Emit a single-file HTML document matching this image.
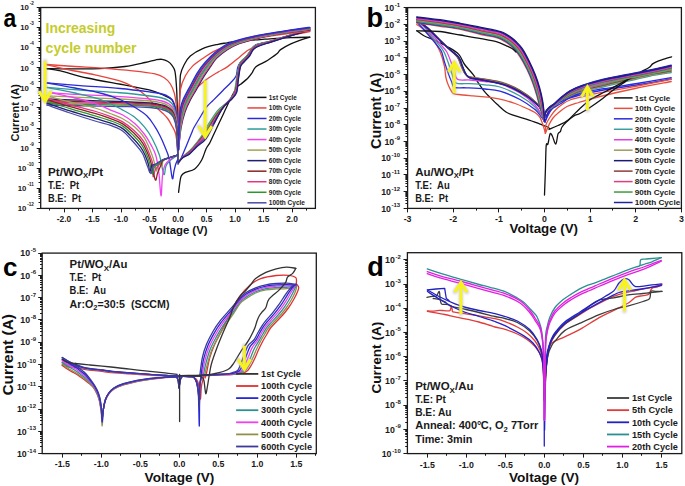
<!DOCTYPE html><html><head><meta charset="utf-8"><style>html,body{margin:0;padding:0;background:#fff;overflow:hidden}svg{display:block}text{font-family:"Liberation Sans",sans-serif}</style></head><body>
<svg width="685" height="486" viewBox="0 0 685 486">
<defs><filter id="glow" x="-50%" y="-20%" width="200%" height="140%"><feGaussianBlur stdDeviation="1.1"/></filter></defs>
<rect width="685" height="486" fill="#fff"/>
<path d="M46.50,68.60 C50.42,68.65 61.08,68.88 70.00,68.90 C78.92,68.92 90.83,69.10 100.00,68.70 C109.17,68.30 117.50,67.53 125.00,66.50 C132.50,65.47 139.83,63.62 145.00,62.50 C150.17,61.38 153.17,60.33 156.00,59.80 C158.83,59.27 160.00,59.02 162.00,59.30 C164.00,59.58 166.33,60.48 168.00,61.50 C169.67,62.52 170.83,63.72 172.00,65.40 C173.17,67.08 174.23,67.73 175.00,71.60 C175.77,75.47 176.20,81.92 176.60,88.60 C177.00,95.28 177.17,103.97 177.40,111.70 C177.63,119.43 177.90,131.12 178.00,135.00" fill="none" stroke="#111111" stroke-width="1.3" stroke-linejoin="round" stroke-linecap="round" opacity="1.0"/>
<path d="M46.50,68.60 C48.85,68.98 53.78,69.33 60.60,70.90 C67.42,72.47 76.42,75.60 87.40,78.00 C98.38,80.40 115.90,83.23 126.50,85.30 C137.10,87.37 144.75,88.70 151.00,90.40 C157.25,92.10 160.53,93.95 164.00,95.50 C167.47,97.05 169.88,97.28 171.80,99.70 C173.72,102.12 174.60,104.95 175.50,110.00 C176.40,115.05 176.78,123.33 177.20,130.00 C177.62,136.67 177.87,146.67 178.00,150.00" fill="none" stroke="#111111" stroke-width="1.3" stroke-linejoin="round" stroke-linecap="round" opacity="1.0"/>
<path d="M46.50,64.50 C51.25,64.83 65.78,65.88 75.00,66.50 C84.22,67.12 92.20,67.47 101.80,68.20 C111.40,68.93 123.73,69.95 132.60,70.90 C141.47,71.85 149.72,72.75 155.00,73.90 C160.28,75.05 161.73,76.12 164.30,77.80 C166.87,79.48 168.73,81.43 170.40,84.00 C172.07,86.57 173.27,89.10 174.30,93.20 C175.33,97.30 176.05,102.47 176.60,108.60 C177.15,114.73 177.33,123.10 177.60,130.00 C177.87,136.90 178.10,146.67 178.20,150.00" fill="none" stroke="#e8443c" stroke-width="1.3" stroke-linejoin="round" stroke-linecap="round" opacity="1.0"/>
<path d="M46.50,64.50 C50.42,65.42 61.92,68.28 70.00,70.00 C78.08,71.72 86.72,72.98 95.00,74.80 C103.28,76.62 112.92,78.65 119.70,80.90 C126.48,83.15 131.58,86.03 135.70,88.30 C139.82,90.57 142.02,92.55 144.40,94.50 C146.78,96.45 148.07,97.92 150.00,100.00 C151.93,102.08 153.83,104.75 156.00,107.00 C158.17,109.25 161.00,111.50 163.00,113.50 C165.00,115.50 166.50,116.92 168.00,119.00 C169.50,121.08 170.72,123.50 172.00,126.00 C173.28,128.50 174.73,130.00 175.70,134.00 C176.67,138.00 177.45,147.33 177.80,150.00" fill="none" stroke="#e8443c" stroke-width="1.3" stroke-linejoin="round" stroke-linecap="round" opacity="1.0"/>
<path d="M47.00,82.80 C52.50,83.26 67.83,84.61 80.00,85.56 C92.17,86.51 108.33,87.43 120.00,88.50 C131.67,89.58 143.00,91.08 150.00,92.00 C157.00,92.92 158.83,93.17 162.00,94.00 C165.17,94.83 167.08,95.67 169.00,97.00 C170.92,98.33 172.25,99.17 173.50,102.00 C174.75,104.83 175.82,107.67 176.50,114.00 C177.18,120.33 177.33,132.67 177.60,140.00 C177.87,147.33 178.02,155.00 178.10,158.00" fill="none" stroke="#2a2ad6" stroke-width="1.3" stroke-linejoin="round" stroke-linecap="round" opacity="1.0"/>
<path d="M47.00,87.40 C52.50,87.83 67.83,89.09 80.00,89.98 C92.17,90.87 108.33,91.73 120.00,92.73 C131.67,93.74 143.00,95.12 150.00,96.00 C157.00,96.88 158.83,97.17 162.00,98.00 C165.17,98.83 167.08,99.67 169.00,101.00 C170.92,102.33 172.25,103.17 173.50,106.00 C174.75,108.83 175.82,112.08 176.50,118.00 C177.18,123.92 177.33,134.70 177.60,141.50 C177.87,148.30 178.02,155.92 178.10,158.80" fill="none" stroke="#2f9a9a" stroke-width="1.3" stroke-linejoin="round" stroke-linecap="round" opacity="1.0"/>
<path d="M52.00,92.70 C56.67,93.02 68.67,93.94 80.00,94.59 C91.33,95.24 108.33,95.87 120.00,96.61 C131.67,97.34 143.00,98.27 150.00,99.00 C157.00,99.73 158.83,100.17 162.00,101.00 C165.17,101.83 167.08,102.67 169.00,104.00 C170.92,105.33 172.25,106.17 173.50,109.00 C174.75,111.83 175.82,115.33 176.50,121.00 C177.18,126.67 177.33,136.57 177.60,143.00 C177.87,149.43 178.02,156.83 178.10,159.60" fill="none" stroke="#f040f0" stroke-width="1.3" stroke-linejoin="round" stroke-linecap="round" opacity="1.0"/>
<path d="M47.00,95.80 C52.50,96.06 67.83,96.82 80.00,97.36 C92.17,97.90 108.33,98.42 120.00,99.02 C131.67,99.63 143.00,100.34 150.00,101.00 C157.00,101.66 158.83,102.17 162.00,103.00 C165.17,103.83 167.08,104.67 169.00,106.00 C170.92,107.33 172.25,108.17 173.50,111.00 C174.75,113.83 175.82,117.42 176.50,123.00 C177.18,128.58 177.33,138.27 177.60,144.50 C177.87,150.73 178.02,157.75 178.10,160.40" fill="none" stroke="#a2a254" stroke-width="1.3" stroke-linejoin="round" stroke-linecap="round" opacity="1.0"/>
<path d="M47.00,99.00 C52.50,99.20 67.83,99.79 80.00,100.20 C92.17,100.61 108.33,101.01 120.00,101.48 C131.67,101.95 143.00,102.41 150.00,103.00 C157.00,103.59 158.83,104.17 162.00,105.00 C165.17,105.83 167.08,106.67 169.00,108.00 C170.92,109.33 172.25,110.17 173.50,113.00 C174.75,115.83 175.82,119.50 176.50,125.00 C177.18,130.50 177.33,139.97 177.60,146.00 C177.87,152.03 178.02,158.67 178.10,161.20" fill="none" stroke="#20206e" stroke-width="1.3" stroke-linejoin="round" stroke-linecap="round" opacity="1.0"/>
<path d="M47.00,100.50 C52.50,100.67 67.83,101.19 80.00,101.55 C92.17,101.91 108.33,102.26 120.00,102.67 C131.67,103.08 143.00,103.44 150.00,104.00 C157.00,104.56 158.83,105.17 162.00,106.00 C165.17,106.83 167.08,107.67 169.00,109.00 C170.92,110.33 172.25,111.17 173.50,114.00 C174.75,116.83 175.82,120.42 176.50,126.00 C177.18,131.58 177.33,141.50 177.60,147.50 C177.87,153.50 178.02,159.58 178.10,162.00" fill="none" stroke="#8a2424" stroke-width="1.3" stroke-linejoin="round" stroke-linecap="round" opacity="1.0"/>
<path d="M47.00,102.00 C52.50,102.15 67.83,102.59 80.00,102.90 C92.17,103.21 108.33,103.51 120.00,103.86 C131.67,104.21 143.00,104.48 150.00,105.00 C157.00,105.52 158.83,106.17 162.00,107.00 C165.17,107.83 167.08,108.67 169.00,110.00 C170.92,111.33 172.25,112.17 173.50,115.00 C174.75,117.83 175.82,121.33 176.50,127.00 C177.18,132.67 177.33,143.03 177.60,149.00 C177.87,154.97 178.02,160.50 178.10,162.80" fill="none" stroke="#e63284" stroke-width="1.3" stroke-linejoin="round" stroke-linecap="round" opacity="1.0"/>
<path d="M47.00,103.50 C52.50,103.62 67.83,103.99 80.00,104.25 C92.17,104.51 108.33,104.76 120.00,105.05 C131.67,105.34 143.00,105.51 150.00,106.00 C157.00,106.49 158.83,107.17 162.00,108.00 C165.17,108.83 167.08,109.67 169.00,111.00 C170.92,112.33 172.25,113.17 173.50,116.00 C174.75,118.83 175.82,122.25 176.50,128.00 C177.18,133.75 177.33,144.57 177.60,150.50 C177.87,156.43 178.02,161.42 178.10,163.60" fill="none" stroke="#2e962e" stroke-width="1.3" stroke-linejoin="round" stroke-linecap="round" opacity="1.0"/>
<path d="M47.00,105.00 C52.50,105.12 67.83,105.49 80.00,105.75 C92.17,106.01 108.33,106.26 120.00,106.55 C131.67,106.84 143.00,107.01 150.00,107.50 C157.00,107.99 158.83,108.67 162.00,109.50 C165.17,110.33 167.08,111.17 169.00,112.50 C170.92,113.83 172.25,114.67 173.50,117.50 C174.75,120.33 175.82,123.75 176.50,129.50 C177.18,135.25 177.33,146.18 177.60,152.00 C177.87,157.82 178.02,162.33 178.10,164.40" fill="none" stroke="#4a4aa8" stroke-width="1.3" stroke-linejoin="round" stroke-linecap="round" opacity="1.0"/>
<path d="M47.00,83.00 C51.67,83.83 65.83,86.25 75.00,88.00 C84.17,89.75 94.50,91.58 102.00,93.50 C109.50,95.42 114.55,97.20 120.00,99.50 C125.45,101.80 130.20,104.55 134.70,107.30 C139.20,110.05 143.72,112.90 147.00,116.00 C150.28,119.10 152.23,122.62 154.40,125.90 C156.57,129.18 158.23,132.18 160.00,135.70 C161.77,139.22 163.50,143.28 165.00,147.00 C166.50,150.72 167.78,152.77 169.00,158.00 C170.22,163.23 171.47,176.23 172.30,178.40 C173.13,180.57 173.43,173.37 174.00,171.00 C174.57,168.63 175.12,166.03 175.70,164.20 C176.28,162.37 177.20,160.70 177.50,160.00" fill="none" stroke="#2a2ad6" stroke-width="1.3" stroke-linejoin="round" stroke-linecap="round" opacity="1.0"/>
<path d="M47.00,87.60 C51.67,88.50 65.83,90.93 75.00,93.00 C84.17,95.07 94.12,97.20 102.00,100.00 C109.88,102.80 116.85,106.93 122.30,109.80 C127.75,112.67 130.98,114.32 134.70,117.20 C138.42,120.08 141.72,123.60 144.60,127.10 C147.48,130.60 149.53,133.55 152.00,138.20 C154.47,142.85 157.43,148.97 159.40,155.00 C161.37,161.03 162.70,172.57 163.80,174.40 C164.90,176.23 164.97,168.32 166.00,166.00 C167.03,163.68 168.38,162.08 170.00,160.50 C171.62,158.92 174.37,157.42 175.70,156.50 C177.03,155.58 177.62,155.25 178.00,155.00" fill="none" stroke="#2f9a9a" stroke-width="1.3" stroke-linejoin="round" stroke-linecap="round" opacity="1.0"/>
<path d="M52.00,93.00 C55.83,93.83 67.83,96.25 75.00,98.00 C82.17,99.75 89.17,101.53 95.00,103.50 C100.83,105.47 105.45,107.92 110.00,109.80 C114.55,111.68 118.18,112.53 122.30,114.80 C126.42,117.07 130.98,120.12 134.70,123.40 C138.42,126.68 141.93,131.00 144.60,134.50 C147.27,138.00 148.85,140.98 150.70,144.40 C152.55,147.82 154.35,150.40 155.70,155.00 C157.05,159.60 157.92,165.18 158.80,172.00 C159.68,178.82 160.38,195.23 161.00,195.90 C161.62,196.57 161.83,181.15 162.50,176.00 C163.17,170.85 163.75,167.75 165.00,165.00 C166.25,162.25 168.22,161.00 170.00,159.50 C171.78,158.00 174.37,156.75 175.70,156.00 C177.03,155.25 177.62,155.17 178.00,155.00" fill="none" stroke="#f040f0" stroke-width="1.3" stroke-linejoin="round" stroke-linecap="round" opacity="1.0"/>
<path d="M47.00,96.00 C50.83,97.00 62.00,100.00 70.00,102.00 C78.00,104.00 88.33,106.08 95.00,108.00 C101.67,109.92 105.45,111.75 110.00,113.50 C114.55,115.25 118.18,116.23 122.30,118.50 C126.42,120.77 130.98,123.82 134.70,127.10 C138.42,130.38 141.72,133.55 144.60,138.20 C147.48,142.85 150.27,150.53 152.00,155.00 C153.73,159.47 154.25,162.33 155.00,165.00 C155.75,167.67 155.88,171.17 156.50,171.00 C157.12,170.83 157.78,164.83 158.70,164.00 C159.62,163.17 161.23,166.58 162.00,166.00 C162.77,165.42 161.97,161.92 163.30,160.50 C164.63,159.08 167.93,158.30 170.00,157.50 C172.07,156.70 174.37,156.12 175.70,155.70 C177.03,155.28 177.62,155.12 178.00,155.00" fill="none" stroke="#a2a254" stroke-width="1.3" stroke-linejoin="round" stroke-linecap="round" opacity="1.0"/>
<path d="M47.00,98.25 C50.83,99.33 62.00,102.58 70.00,104.75 C78.00,106.92 88.33,109.30 95.00,111.25 C101.67,113.20 105.45,114.70 110.00,116.42 C114.55,118.15 118.29,119.23 122.30,121.58 C126.31,123.92 130.57,127.27 134.07,130.50 C137.58,133.73 140.72,136.89 143.35,140.97 C145.97,145.06 148.22,151.00 149.82,155.00 C151.43,159.00 152.45,161.38 153.00,165.00 C153.55,168.62 152.72,175.92 153.10,176.70 C153.48,177.48 154.38,171.57 155.30,169.70 C156.22,167.83 157.27,167.07 158.60,165.50 C159.93,163.93 161.40,161.58 163.30,160.25 C165.20,158.92 167.93,158.26 170.00,157.50 C172.07,156.74 174.37,156.12 175.70,155.70 C177.03,155.28 177.62,155.12 178.00,155.00" fill="none" stroke="#e63284" stroke-width="1.3" stroke-linejoin="round" stroke-linecap="round" opacity="1.0"/>
<path d="M47.00,99.78 C50.83,100.92 62.00,104.34 70.00,106.62 C78.00,108.90 88.33,111.49 95.00,113.46 C101.67,115.43 105.45,116.71 110.00,118.41 C114.55,120.12 118.36,121.27 122.30,123.67 C126.24,126.07 130.28,129.61 133.65,132.81 C137.02,136.01 140.05,139.16 142.50,142.86 C144.95,146.56 146.82,151.31 148.35,155.00 C149.87,158.69 150.46,160.83 151.64,165.00 C152.82,169.17 154.41,178.67 155.40,180.00 C156.39,181.33 156.68,175.47 157.60,173.00 C158.52,170.53 159.95,167.31 160.90,165.16 C161.85,163.01 161.78,161.36 163.30,160.08 C164.82,158.80 167.93,158.23 170.00,157.50 C172.07,156.77 174.37,156.12 175.70,155.70 C177.03,155.28 177.62,155.12 178.00,155.00" fill="none" stroke="#8a2424" stroke-width="1.3" stroke-linejoin="round" stroke-linecap="round" opacity="1.0"/>
<path d="M47.00,101.40 C50.83,102.60 62.00,106.20 70.00,108.60 C78.00,111.00 88.33,113.81 95.00,115.80 C101.67,117.79 105.45,118.84 110.00,120.52 C114.55,122.20 118.43,123.42 122.30,125.88 C126.17,128.34 129.98,132.10 133.20,135.26 C136.42,138.42 139.34,141.57 141.60,144.86 C143.86,148.15 145.35,151.64 146.78,155.00 C148.21,158.36 149.28,161.83 150.20,165.00 C151.12,168.17 151.58,173.67 152.30,174.00 C153.02,174.33 153.58,168.53 154.50,167.00 C155.42,165.47 156.33,165.98 157.80,164.80 C159.27,163.62 161.27,161.12 163.30,159.90 C165.33,158.68 167.93,158.20 170.00,157.50 C172.07,156.80 174.37,156.12 175.70,155.70 C177.03,155.28 177.62,155.12 178.00,155.00" fill="none" stroke="#2e962e" stroke-width="1.3" stroke-linejoin="round" stroke-linecap="round" opacity="1.0"/>
<path d="M47.00,103.20 C50.83,104.47 62.00,108.27 70.00,110.80 C78.00,113.33 88.33,116.39 95.00,118.40 C101.67,120.41 105.45,121.20 110.00,122.86 C114.55,124.52 118.52,125.82 122.30,128.34 C126.08,130.86 129.65,134.86 132.70,137.98 C135.75,141.10 138.54,144.24 140.60,147.08 C142.66,149.92 143.71,152.01 145.04,155.00 C146.37,157.99 147.82,162.08 148.60,165.00 C149.38,167.92 149.15,172.42 149.70,172.50 C150.25,172.58 150.98,166.85 151.90,165.50 C152.82,164.15 153.30,165.37 155.20,164.40 C157.10,163.43 160.83,160.85 163.30,159.70 C165.77,158.55 167.93,158.17 170.00,157.50 C172.07,156.83 174.37,156.12 175.70,155.70 C177.03,155.28 177.62,155.12 178.00,155.00" fill="none" stroke="#20206e" stroke-width="1.3" stroke-linejoin="round" stroke-linecap="round" opacity="1.0"/>
<path d="M47.00,105.00 C50.83,106.33 62.00,110.33 70.00,113.00 C78.00,115.67 88.33,118.97 95.00,121.00 C101.67,123.03 105.45,123.57 110.00,125.20 C114.55,126.83 118.60,128.22 122.30,130.80 C126.00,133.38 129.32,137.62 132.20,140.70 C135.08,143.78 137.75,146.92 139.60,149.30 C141.45,151.68 142.07,152.38 143.30,155.00 C144.53,157.62 145.75,161.92 147.00,165.00 C148.25,168.08 149.80,173.25 150.80,173.50 C151.80,173.75 152.08,168.08 153.00,166.50 C153.92,164.92 154.58,165.17 156.30,164.00 C158.02,162.83 161.02,160.58 163.30,159.50 C165.58,158.42 167.93,158.13 170.00,157.50 C172.07,156.87 174.37,156.12 175.70,155.70 C177.03,155.28 177.62,155.12 178.00,155.00" fill="none" stroke="#4a4aa8" stroke-width="1.3" stroke-linejoin="round" stroke-linecap="round" opacity="1.0"/>
<path d="M178.30,135.00 C178.45,130.83 178.93,117.17 179.20,110.00 C179.47,102.83 179.68,97.90 179.90,92.00 C180.12,86.10 179.78,79.15 180.50,74.60 C181.22,70.05 182.57,67.80 184.20,64.70 C185.83,61.60 187.22,58.68 190.30,56.00 C193.38,53.32 198.08,50.55 202.70,48.60 C207.32,46.65 213.90,45.27 218.00,44.30 C222.10,43.33 223.68,43.37 227.30,42.80 C230.92,42.23 234.25,41.43 239.70,40.90 C245.15,40.37 254.90,39.95 260.00,39.60 C265.10,39.25 265.17,39.12 270.30,38.80 C275.43,38.48 284.22,37.97 290.80,37.70 C297.38,37.43 306.63,37.28 309.80,37.20" fill="none" stroke="#111111" stroke-width="1.3" stroke-linejoin="round" stroke-linecap="round" opacity="1.0"/>
<path d="M309.80,37.20 C308.35,37.63 304.27,38.68 301.10,39.80 C297.93,40.92 294.22,42.27 290.80,43.90 C287.38,45.53 282.82,48.05 280.60,49.60 C278.38,51.15 279.40,51.58 277.50,53.20 C275.60,54.82 271.28,57.85 269.20,59.30 C267.12,60.75 267.25,60.63 265.00,61.90 C262.75,63.17 257.87,65.05 255.70,66.90 C253.53,68.75 253.28,71.15 252.00,73.00 C250.72,74.85 249.83,76.17 248.00,78.00 C246.17,79.83 242.77,82.55 241.00,84.00 C239.23,85.45 238.73,85.03 237.40,86.70 C236.07,88.37 234.57,91.12 233.00,94.00 C231.43,96.88 230.00,99.83 228.00,104.00 C226.00,108.17 223.27,114.17 221.00,119.00 C218.73,123.83 216.23,129.08 214.40,133.00 C212.57,136.92 211.40,139.83 210.00,142.50 C208.60,145.17 207.38,146.08 206.00,149.00 C204.62,151.92 203.58,156.68 201.70,160.00 C199.82,163.32 197.52,166.80 194.70,168.90 C191.88,171.00 187.07,171.37 184.80,172.60 C182.53,173.83 181.98,174.23 181.10,176.30 C180.22,178.37 179.92,182.33 179.50,185.00 C179.08,187.67 178.75,191.08 178.60,192.30" fill="none" stroke="#111111" stroke-width="1.3" stroke-linejoin="round" stroke-linecap="round" opacity="1.0"/>
<path d="M309.80,31.60 C306.63,32.22 297.38,33.73 290.80,35.30 C284.22,36.87 275.43,39.38 270.30,41.00 C265.17,42.62 263.05,43.78 260.00,45.00 C256.95,46.22 254.15,47.33 252.00,48.30 C249.85,49.27 249.15,49.35 247.10,50.80 C245.05,52.25 243.00,54.32 239.70,57.00 C236.40,59.68 230.92,64.38 227.30,66.90 C223.68,69.42 221.48,70.00 218.00,72.10 C214.52,74.20 209.98,76.83 206.40,79.50 C202.82,82.17 199.57,85.35 196.50,88.10 C193.43,90.85 190.33,92.85 188.00,96.00 C185.67,99.15 183.90,102.67 182.50,107.00 C181.10,111.33 180.25,116.50 179.60,122.00 C178.95,127.50 178.77,137.00 178.60,140.00" fill="none" stroke="#e8443c" stroke-width="1.3" stroke-linejoin="round" stroke-linecap="round" opacity="1.0"/>
<path d="M309.80,29.20 C306.63,30.17 295.67,33.53 290.80,35.00 C285.93,36.47 284.02,36.92 280.60,38.00 C277.18,39.08 273.40,40.67 270.30,41.50 C267.20,42.33 264.43,42.45 262.00,43.00 C259.57,43.55 257.37,43.92 255.70,44.80 C254.03,45.68 253.02,47.10 252.00,48.30 C250.98,49.50 250.62,50.55 249.60,52.00 C248.58,53.45 247.48,55.22 245.90,57.00 C244.32,58.78 241.48,60.87 240.10,62.70 C238.72,64.53 238.27,65.78 237.60,68.00 C236.93,70.22 237.25,73.55 236.10,76.00 C234.95,78.45 232.93,80.25 230.70,82.70 C228.47,85.15 225.58,87.80 222.70,90.70 C219.82,93.60 216.07,97.42 213.40,100.10 C210.73,102.78 208.68,104.32 206.70,106.80 C204.72,109.28 203.62,111.55 201.50,115.00 C199.38,118.45 195.68,124.40 194.00,127.50 C192.32,130.60 192.68,130.52 191.40,133.60 C190.12,136.68 188.02,141.88 186.30,146.00 C184.58,150.12 182.38,155.47 181.10,158.30 C179.82,161.13 179.02,162.22 178.60,163.00" fill="none" stroke="#2a2ad6" stroke-width="1.3" stroke-linejoin="round" stroke-linecap="round" opacity="1.0"/>
<path d="M309.80,29.00 C306.63,29.97 297.38,32.75 290.80,34.80 C284.22,36.85 275.93,39.68 270.30,41.30 C264.67,42.92 260.05,43.33 257.00,44.50 C253.95,45.67 253.23,47.05 252.00,48.30 C250.77,49.55 250.62,50.55 249.60,52.00 C248.58,53.45 247.48,55.22 245.90,57.00 C244.32,58.78 241.52,59.97 240.10,62.70 C238.68,65.43 238.18,69.40 237.40,73.40 C236.62,77.40 236.07,83.13 235.40,86.70 C234.73,90.27 234.85,92.12 233.40,94.80 C231.95,97.48 229.37,100.13 226.70,102.80 C224.03,105.47 220.52,107.10 217.40,110.80 C214.28,114.50 210.45,121.02 208.00,125.00 C205.55,128.98 205.30,130.87 202.70,134.70 C200.10,138.53 195.35,144.62 192.40,148.00 C189.45,151.38 187.30,152.67 185.00,155.00 C182.70,157.33 179.67,160.83 178.60,162.00" fill="none" stroke="#2f9a9a" stroke-width="1.3" stroke-linejoin="round" stroke-linecap="round" opacity="1.0"/>
<path d="M309.80,29.17 C306.63,30.13 297.38,32.90 290.80,34.94 C284.22,36.99 275.91,39.80 270.30,41.44 C264.69,43.08 260.17,43.60 257.14,44.79 C254.12,45.97 253.40,47.25 252.14,48.54 C250.89,49.84 250.69,51.04 249.60,52.57 C248.51,54.10 247.20,55.93 245.63,57.71 C244.05,59.50 241.51,60.50 240.16,63.27 C238.81,66.04 238.29,70.31 237.53,74.34 C236.77,78.38 236.32,83.97 235.60,87.47 C234.88,90.98 234.79,92.69 233.21,95.37 C231.64,98.05 228.86,100.65 226.13,103.56 C223.40,106.47 219.90,108.93 216.83,112.83 C213.76,116.73 210.21,123.03 207.71,126.97 C205.21,130.91 204.45,132.80 201.83,136.46 C199.20,140.11 194.82,145.74 191.97,148.89 C189.12,152.04 186.94,153.17 184.71,155.36 C182.49,157.54 179.62,160.89 178.60,162.00" fill="none" stroke="#a2a254" stroke-width="1.3" stroke-linejoin="round" stroke-linecap="round" opacity="1.0"/>
<path d="M309.80,29.34 C306.63,30.30 297.38,33.05 290.80,35.09 C284.22,37.13 275.89,39.92 270.30,41.59 C264.71,43.25 260.29,43.87 257.29,45.07 C254.28,46.27 253.57,47.44 252.29,48.79 C251.00,50.13 250.75,51.54 249.60,53.14 C248.45,54.75 246.92,56.65 245.36,58.43 C243.79,60.21 241.50,61.03 240.21,63.84 C238.93,66.65 238.39,71.22 237.66,75.29 C236.92,79.35 236.57,84.80 235.80,88.24 C235.03,91.69 234.74,93.26 233.03,95.94 C231.32,98.62 228.35,101.16 225.56,104.31 C222.76,107.47 219.28,110.75 216.26,114.86 C213.24,118.96 209.98,125.05 207.43,128.94 C204.88,132.84 203.60,134.74 200.96,138.21 C198.31,141.69 194.30,146.85 191.54,149.77 C188.79,152.69 186.59,153.68 184.43,155.71 C182.27,157.75 179.57,160.95 178.60,162.00" fill="none" stroke="#2e962e" stroke-width="1.3" stroke-linejoin="round" stroke-linecap="round" opacity="1.0"/>
<path d="M309.80,29.51 C306.63,30.47 297.38,33.19 290.80,35.23 C284.22,37.26 275.86,40.04 270.30,41.73 C264.74,43.42 260.41,44.14 257.43,45.36 C254.45,46.57 253.73,47.64 252.43,49.03 C251.12,50.42 250.82,52.03 249.60,53.71 C248.38,55.40 246.64,57.36 245.09,59.14 C243.53,60.93 241.49,61.57 240.27,64.41 C239.05,67.26 238.50,72.13 237.79,76.23 C237.07,80.33 236.82,85.63 236.00,89.01 C235.18,92.40 234.68,93.84 232.84,96.51 C231.01,99.19 227.85,101.68 224.99,105.07 C222.13,108.47 218.66,112.58 215.69,116.89 C212.71,121.19 209.74,127.07 207.14,130.91 C204.54,134.76 202.76,136.68 200.09,139.97 C197.41,143.26 193.77,147.97 191.11,150.66 C188.46,153.34 186.23,154.18 184.14,156.07 C182.06,157.96 179.52,161.01 178.60,162.00" fill="none" stroke="#8a2424" stroke-width="1.3" stroke-linejoin="round" stroke-linecap="round" opacity="1.0"/>
<path d="M309.80,29.69 C306.63,30.63 297.38,33.34 290.80,35.37 C284.22,37.40 275.84,40.16 270.30,41.87 C264.76,43.58 260.53,44.41 257.57,45.64 C254.62,46.88 253.90,47.83 252.57,49.27 C251.24,50.71 250.89,52.52 249.60,54.29 C248.31,56.05 246.36,58.07 244.81,59.86 C243.27,61.64 241.48,62.10 240.33,64.99 C239.18,67.87 238.60,73.04 237.91,77.17 C237.23,81.30 237.08,86.47 236.20,89.79 C235.32,93.10 234.62,94.41 232.66,97.09 C230.69,99.76 227.34,102.19 224.41,105.83 C221.49,109.47 218.04,114.40 215.11,118.91 C212.19,123.42 209.51,129.08 206.86,132.89 C204.21,136.69 201.91,138.62 199.21,141.73 C196.52,144.84 193.25,149.09 190.69,151.54 C188.13,153.99 185.87,154.69 183.86,156.43 C181.84,158.17 179.48,161.07 178.60,162.00" fill="none" stroke="#f040f0" stroke-width="1.3" stroke-linejoin="round" stroke-linecap="round" opacity="1.0"/>
<path d="M309.80,29.86 C306.63,30.80 297.38,33.49 290.80,35.51 C284.22,37.54 275.81,40.28 270.30,42.01 C264.79,43.75 260.65,44.68 257.71,45.93 C254.78,47.18 254.07,48.03 252.71,49.51 C251.36,51.00 250.96,53.01 249.60,54.86 C248.24,56.70 246.08,58.79 244.54,60.57 C243.01,62.35 241.47,62.63 240.39,65.56 C239.30,68.48 238.71,73.95 238.04,78.11 C237.38,82.28 237.33,87.30 236.40,90.56 C235.47,93.81 234.56,94.99 232.47,97.66 C230.38,100.33 226.83,102.70 223.84,106.59 C220.85,110.47 217.42,116.23 214.54,120.94 C211.66,125.65 209.27,131.10 206.57,134.86 C203.87,138.61 201.06,140.56 198.34,143.49 C195.62,146.41 192.72,150.21 190.26,152.43 C187.80,154.65 185.51,155.19 183.57,156.79 C181.63,158.38 179.43,161.13 178.60,162.00" fill="none" stroke="#e63284" stroke-width="1.3" stroke-linejoin="round" stroke-linecap="round" opacity="1.0"/>
<path d="M309.80,30.03 C306.63,30.97 297.38,33.64 290.80,35.66 C284.22,37.68 275.79,40.40 270.30,42.16 C264.81,43.92 260.76,44.95 257.86,46.21 C254.95,47.48 254.23,48.22 252.86,49.76 C251.48,51.29 251.03,53.51 249.60,55.43 C248.17,57.35 245.80,59.50 244.27,61.29 C242.75,63.07 241.46,63.17 240.44,66.13 C239.43,69.09 238.81,74.86 238.17,79.06 C237.53,83.26 237.58,88.13 236.60,91.33 C235.62,94.52 234.51,95.56 232.29,98.23 C230.06,100.90 226.32,103.22 223.27,107.34 C220.22,111.47 216.80,118.06 213.97,122.97 C211.14,127.89 209.04,133.12 206.29,136.83 C203.54,140.54 200.21,142.50 197.47,145.24 C194.73,147.99 192.19,151.33 189.83,153.31 C187.46,155.30 185.16,155.70 183.29,157.14 C181.41,158.59 179.38,161.19 178.60,162.00" fill="none" stroke="#4a4aa8" stroke-width="1.3" stroke-linejoin="round" stroke-linecap="round" opacity="1.0"/>
<path d="M309.80,30.20 C306.63,31.13 297.38,33.78 290.80,35.80 C284.22,37.82 275.77,40.52 270.30,42.30 C264.83,44.08 260.88,45.22 258.00,46.50 C255.12,47.78 254.40,48.42 253.00,50.00 C251.60,51.58 251.10,54.00 249.60,56.00 C248.10,58.00 245.52,60.22 244.00,62.00 C242.48,63.78 241.45,63.70 240.50,66.70 C239.55,69.70 238.92,75.77 238.30,80.00 C237.68,84.23 237.83,88.97 236.80,92.10 C235.77,95.23 234.45,96.13 232.10,98.80 C229.75,101.47 225.82,103.73 222.70,108.10 C219.58,112.47 216.18,119.88 213.40,125.00 C210.62,130.12 208.80,135.13 206.00,138.80 C203.20,142.47 199.37,144.43 196.60,147.00 C193.83,149.57 191.67,152.45 189.40,154.20 C187.13,155.95 184.80,156.20 183.00,157.50 C181.20,158.80 179.33,161.25 178.60,162.00" fill="none" stroke="#20206e" stroke-width="1.3" stroke-linejoin="round" stroke-linecap="round" opacity="1.0"/>
<path d="M178.40,140.00 C178.53,135.00 178.85,118.43 179.20,110.00 C179.55,101.57 179.47,95.10 180.50,89.40 C181.53,83.70 183.35,79.72 185.40,75.80 C187.45,71.88 189.92,68.78 192.80,65.90 C195.68,63.02 198.50,61.27 202.70,58.50 C206.90,55.73 211.78,51.85 218.00,49.30 C224.22,46.75 233.00,45.12 240.00,43.20 C247.00,41.28 253.23,39.23 260.00,37.80 C266.77,36.37 272.30,35.72 280.60,34.60 C288.90,33.48 304.93,31.68 309.80,31.10" fill="none" stroke="#e8443c" stroke-width="1.3" stroke-linejoin="round" stroke-linecap="round" opacity="1.0"/>
<path d="M178.60,150.00 C179.00,146.33 179.93,134.33 181.00,128.00 C182.07,121.67 183.45,116.67 185.00,112.00 C186.55,107.33 188.38,103.77 190.30,100.00 C192.22,96.23 194.43,93.02 196.50,89.40 C198.57,85.78 200.43,82.00 202.70,78.30 C204.97,74.60 207.80,70.53 210.10,67.20 C212.40,63.87 213.63,61.23 216.50,58.30 C219.37,55.37 223.43,52.08 227.30,49.60 C231.17,47.12 235.58,45.05 239.70,43.40 C243.82,41.75 247.78,40.83 252.00,39.70 C256.22,38.57 260.23,37.63 265.00,36.60 C269.77,35.57 274.58,34.47 280.60,33.50 C286.62,32.53 296.23,31.42 301.10,30.80 C305.97,30.18 308.35,29.97 309.80,29.80" fill="none" stroke="#20206e" stroke-width="1.3" stroke-linejoin="round" stroke-linecap="round" opacity="1.0"/>
<path d="M178.56,150.00 C178.93,146.21 179.80,133.67 180.78,127.25 C181.75,120.83 183.00,116.04 184.44,111.50 C185.87,106.96 187.49,103.76 189.38,100.00 C191.26,96.24 193.61,92.68 195.72,88.94 C197.84,85.19 199.79,81.25 202.09,77.52 C204.38,73.80 207.12,69.90 209.49,66.58 C211.86,63.25 213.34,60.52 216.31,57.57 C219.28,54.63 223.40,51.34 227.30,48.90 C231.20,46.46 235.58,44.54 239.70,42.94 C243.82,41.34 247.78,40.42 252.00,39.31 C256.22,38.20 260.23,37.30 265.00,36.29 C269.77,35.28 274.58,34.23 280.60,33.26 C286.62,32.30 296.23,31.14 301.10,30.51 C305.97,29.88 308.35,29.66 309.80,29.49" fill="none" stroke="#e63284" stroke-width="1.3" stroke-linejoin="round" stroke-linecap="round" opacity="1.0"/>
<path d="M178.53,150.00 C178.86,146.08 179.66,133.00 180.55,126.50 C181.44,120.00 182.56,115.42 183.88,111.00 C185.19,106.58 186.60,103.75 188.45,100.00 C190.30,96.25 192.78,92.35 194.95,88.48 C197.12,84.60 199.15,80.50 201.47,76.75 C203.80,73.00 206.43,69.27 208.88,65.95 C211.32,62.63 213.05,59.81 216.12,56.85 C219.20,53.89 223.37,50.60 227.30,48.20 C231.23,45.80 235.58,44.02 239.70,42.48 C243.82,40.93 247.78,40.01 252.00,38.93 C256.22,37.84 260.23,36.96 265.00,35.98 C269.77,34.99 274.58,33.98 280.60,33.02 C286.62,32.07 296.23,30.87 301.10,30.23 C305.97,29.58 308.35,29.35 309.80,29.18" fill="none" stroke="#a2a254" stroke-width="1.3" stroke-linejoin="round" stroke-linecap="round" opacity="1.0"/>
<path d="M178.49,150.00 C178.79,145.96 179.52,132.33 180.32,125.75 C181.13,119.17 182.11,114.79 183.31,110.50 C184.51,106.21 185.71,103.75 187.53,100.00 C189.34,96.25 191.95,92.02 194.18,88.01 C196.40,84.01 198.51,79.76 200.86,75.97 C203.21,72.19 205.75,68.63 208.26,65.33 C210.77,62.02 212.76,59.10 215.94,56.12 C219.11,53.15 223.34,49.85 227.30,47.50 C231.26,45.15 235.58,43.51 239.70,42.01 C243.82,40.52 247.78,39.60 252.00,38.54 C256.22,37.48 260.23,36.62 265.00,35.66 C269.77,34.70 274.58,33.74 280.60,32.79 C286.62,31.83 296.23,30.59 301.10,29.94 C305.97,29.28 308.35,29.04 309.80,28.86" fill="none" stroke="#2f9a9a" stroke-width="1.3" stroke-linejoin="round" stroke-linecap="round" opacity="1.0"/>
<path d="M178.45,150.00 C178.72,145.83 179.38,131.67 180.10,125.00 C180.82,118.33 181.67,114.17 182.75,110.00 C183.83,105.83 184.83,103.74 186.60,100.00 C188.38,96.26 191.12,91.68 193.40,87.55 C195.68,83.42 197.88,79.01 200.25,75.20 C202.62,71.39 205.07,68.00 207.65,64.70 C210.23,61.40 212.47,58.38 215.75,55.40 C219.03,52.42 223.31,49.11 227.30,46.80 C231.29,44.49 235.58,42.99 239.70,41.55 C243.82,40.11 247.78,39.18 252.00,38.15 C256.22,37.12 260.23,36.28 265.00,35.35 C269.77,34.42 274.58,33.50 280.60,32.55 C286.62,31.60 296.23,30.32 301.10,29.65 C305.97,28.98 308.35,28.73 309.80,28.55" fill="none" stroke="#2e962e" stroke-width="1.3" stroke-linejoin="round" stroke-linecap="round" opacity="1.0"/>
<path d="M178.41,150.00 C178.66,145.71 179.25,131.00 179.88,124.25 C180.50,117.50 181.22,113.54 182.19,109.50 C183.15,105.46 183.94,103.74 185.68,100.00 C187.41,96.26 190.30,91.35 192.62,87.09 C194.95,82.83 197.24,78.26 199.64,74.42 C202.04,70.59 204.38,67.37 207.04,64.08 C209.69,60.78 212.19,57.67 215.56,54.67 C218.94,51.68 223.28,48.36 227.30,46.10 C231.32,43.84 235.58,42.48 239.70,41.09 C243.82,39.70 247.78,38.77 252.00,37.76 C256.22,36.75 260.23,35.95 265.00,35.04 C269.77,34.13 274.58,33.26 280.60,32.31 C286.62,31.37 296.23,30.04 301.10,29.36 C305.97,28.68 308.35,28.43 309.80,28.24" fill="none" stroke="#f040f0" stroke-width="1.3" stroke-linejoin="round" stroke-linecap="round" opacity="1.0"/>
<path d="M178.38,150.00 C178.59,145.58 179.11,130.33 179.65,123.50 C180.19,116.67 180.78,112.92 181.62,109.00 C182.47,105.08 183.05,103.73 184.75,100.00 C186.45,96.27 189.47,91.02 191.85,86.62 C194.23,82.23 196.60,77.51 199.03,73.65 C201.45,69.79 203.70,66.73 206.42,63.45 C209.15,60.17 211.90,56.96 215.38,53.95 C218.85,50.94 223.25,47.62 227.30,45.40 C231.35,43.18 235.58,41.96 239.70,40.62 C243.82,39.29 247.78,38.36 252.00,37.38 C256.22,36.39 260.23,35.61 265.00,34.73 C269.77,33.84 274.58,33.02 280.60,32.08 C286.62,31.13 296.23,29.77 301.10,29.07 C305.97,28.38 308.35,28.12 309.80,27.93" fill="none" stroke="#8a2424" stroke-width="1.3" stroke-linejoin="round" stroke-linecap="round" opacity="1.0"/>
<path d="M178.34,150.00 C178.52,145.46 178.97,129.67 179.42,122.75 C179.88,115.83 180.33,112.29 181.06,108.50 C181.80,104.71 182.16,103.72 183.83,100.00 C185.49,96.28 188.64,90.68 191.08,86.16 C193.51,81.64 195.96,76.76 198.41,72.88 C200.87,68.99 203.02,66.10 205.81,62.83 C208.61,59.55 211.61,56.25 215.19,53.23 C218.77,50.20 223.21,46.88 227.30,44.70 C231.39,42.52 235.58,41.45 239.70,40.16 C243.82,38.88 247.78,37.95 252.00,36.99 C256.22,36.03 260.23,35.27 265.00,34.41 C269.77,33.55 274.58,32.78 280.60,31.84 C286.62,30.90 296.23,29.49 301.10,28.79 C305.97,28.08 308.35,27.81 309.80,27.61" fill="none" stroke="#4a4aa8" stroke-width="1.3" stroke-linejoin="round" stroke-linecap="round" opacity="1.0"/>
<path d="M178.30,150.00 C178.45,145.33 178.83,129.00 179.20,122.00 C179.57,115.00 179.88,111.67 180.50,108.00 C181.12,104.33 181.27,103.72 182.90,100.00 C184.53,96.28 187.82,90.35 190.30,85.70 C192.78,81.05 195.32,76.02 197.80,72.10 C200.28,68.18 202.33,65.47 205.20,62.20 C208.07,58.93 211.32,55.53 215.00,52.50 C218.68,49.47 223.18,46.13 227.30,44.00 C231.42,41.87 235.58,40.93 239.70,39.70 C243.82,38.47 247.78,37.53 252.00,36.60 C256.22,35.67 260.23,34.93 265.00,34.10 C269.77,33.27 274.58,32.53 280.60,31.60 C286.62,30.67 296.23,29.22 301.10,28.50 C305.97,27.78 308.35,27.50 309.80,27.30" fill="none" stroke="#2a2ad6" stroke-width="1.3" stroke-linejoin="round" stroke-linecap="round" opacity="1.0"/>
<path d="M416.80,30.80 C418.07,31.67 421.33,34.42 424.40,36.00 C427.47,37.58 431.27,38.47 435.20,40.30 C439.13,42.13 444.07,44.65 448.00,47.00 C451.93,49.35 456.03,51.48 458.80,54.40 C461.57,57.32 462.20,61.13 464.60,64.50 C467.00,67.87 471.03,71.72 473.20,74.60 C475.37,77.48 475.67,78.92 477.60,81.80 C479.53,84.68 482.73,89.33 484.80,91.90 C486.87,94.47 487.90,95.08 490.00,97.20 C492.10,99.32 494.73,102.13 497.40,104.60 C500.07,107.07 503.12,110.15 506.00,112.00 C508.88,113.85 511.20,114.47 514.70,115.70 C518.20,116.93 522.88,118.05 527.00,119.40 C531.12,120.75 536.72,122.82 539.40,123.80 C542.08,124.78 541.92,124.85 543.10,125.30 C544.28,125.75 545.43,125.97 546.50,126.50 C547.57,127.03 549.00,128.17 549.50,128.50" fill="none" stroke="#111111" stroke-width="1.3" stroke-linejoin="round" stroke-linecap="round" opacity="1.0"/>
<path d="M416.80,24.50 C418.17,25.50 422.20,27.92 425.00,30.50 C427.80,33.08 431.10,36.50 433.60,40.00 C436.10,43.50 438.20,47.17 440.00,51.50 C441.80,55.83 443.42,61.67 444.40,66.00 C445.38,70.33 445.18,74.15 445.90,77.50 C446.62,80.85 447.52,83.47 448.70,86.10 C449.88,88.73 451.32,91.90 453.00,93.30 C454.68,94.70 455.43,94.07 458.80,94.50 C462.17,94.93 468.33,95.45 473.20,95.90 C478.07,96.35 483.53,96.65 488.00,97.20 C492.47,97.75 495.50,98.15 500.00,99.20 C504.50,100.25 510.33,101.87 515.00,103.50 C519.67,105.13 524.67,107.50 528.00,109.00 C531.33,110.50 533.03,111.13 535.00,112.50 C536.97,113.87 538.47,115.12 539.80,117.20 C541.13,119.28 542.07,122.33 543.00,125.00 C543.93,127.67 545.00,131.83 545.40,133.20" fill="none" stroke="#e8503e" stroke-width="1.3" stroke-linejoin="round" stroke-linecap="round" opacity="1.0"/>
<path d="M416.80,22.00 C417.83,23.12 420.30,25.65 423.00,28.70 C425.70,31.75 430.58,37.42 433.00,40.30 C435.42,43.18 436.08,44.13 437.50,46.00 C438.92,47.87 440.35,48.90 441.50,51.50 C442.65,54.10 443.20,57.75 444.40,61.60 C445.60,65.45 447.50,71.23 448.70,74.60 C449.90,77.97 450.63,79.67 451.60,81.80 C452.57,83.93 452.10,86.40 454.50,87.40 C456.90,88.40 460.92,87.53 466.00,87.80 C471.08,88.07 479.33,88.43 485.00,89.00 C490.67,89.57 494.17,89.45 500.00,91.20 C505.83,92.95 514.17,96.45 520.00,99.50 C525.83,102.55 531.50,106.67 535.00,109.50 C538.50,112.33 539.33,114.42 541.00,116.50 C542.67,118.58 544.33,121.08 545.00,122.00" fill="none" stroke="#2a2ae0" stroke-width="1.3" stroke-linejoin="round" stroke-linecap="round" opacity="1.0"/>
<path d="M416.80,21.20 C418.17,22.33 421.97,24.87 425.00,28.00 C428.03,31.13 432.58,37.08 435.00,40.00 C437.42,42.92 438.02,43.53 439.50,45.50 C440.98,47.47 442.48,49.05 443.90,51.80 C445.32,54.55 446.65,58.30 448.00,62.00 C449.35,65.70 450.67,70.50 452.00,74.00 C453.33,77.50 453.00,81.40 456.00,83.00 C459.00,84.60 465.17,83.30 470.00,83.60 C474.83,83.90 480.00,84.23 485.00,84.80 C490.00,85.37 494.17,85.13 500.00,87.00 C505.83,88.87 514.17,92.67 520.00,96.00 C525.83,99.33 531.33,103.58 535.00,107.00 C538.67,110.42 540.33,114.17 542.00,116.50 C543.67,118.83 544.50,120.25 545.00,121.00" fill="none" stroke="#3a9c9c" stroke-width="1.3" stroke-linejoin="round" stroke-linecap="round" opacity="1.0"/>
<path d="M416.80,20.60 C418.33,21.83 422.63,24.77 426.00,28.00 C429.37,31.23 434.33,37.00 437.00,40.00 C439.67,43.00 440.38,44.03 442.00,46.00 C443.62,47.97 445.20,49.13 446.70,51.80 C448.20,54.47 449.70,58.63 451.00,62.00 C452.30,65.37 453.40,69.10 454.50,72.00 C455.60,74.90 455.02,78.07 457.60,79.40 C460.18,80.73 465.43,79.65 470.00,80.00 C474.57,80.35 480.00,80.83 485.00,81.50 C490.00,82.17 494.17,82.08 500.00,84.00 C505.83,85.92 514.17,89.50 520.00,93.00 C525.83,96.50 531.33,101.25 535.00,105.00 C538.67,108.75 540.33,112.83 542.00,115.50 C543.67,118.17 544.50,120.08 545.00,121.00" fill="none" stroke="#e040e0" stroke-width="1.3" stroke-linejoin="round" stroke-linecap="round" opacity="1.0"/>
<path d="M416.80,19.40 C418.67,20.83 424.13,24.57 428.00,28.00 C431.87,31.43 436.55,36.57 440.00,40.00 C443.45,43.43 445.80,45.72 448.70,48.60 C451.60,51.48 455.35,54.40 457.40,57.30 C459.45,60.20 459.80,63.37 461.00,66.00 C462.20,68.63 463.28,71.33 464.60,73.10 C465.92,74.87 466.33,75.73 468.90,76.60 C471.47,77.47 476.48,77.75 480.00,78.30 C483.52,78.85 486.28,79.22 490.00,79.90 C493.72,80.58 498.18,81.17 502.30,82.40 C506.42,83.63 510.58,85.23 514.70,87.30 C518.82,89.37 523.72,92.53 527.00,94.80 C530.28,97.07 532.33,99.05 534.40,100.90 C536.47,102.75 537.95,103.63 539.40,105.90 C540.85,108.17 542.17,111.98 543.10,114.50 C544.03,117.02 544.68,119.92 545.00,121.00" fill="none" stroke="#9c9c5c" stroke-width="1.3" stroke-linejoin="round" stroke-linecap="round" opacity="1.0"/>
<path d="M416.80,19.55 C418.67,20.98 424.13,24.72 428.00,28.15 C431.87,31.57 436.55,36.69 440.00,40.10 C443.45,43.51 445.75,45.73 448.70,48.60 C451.65,51.47 455.60,54.40 457.70,57.30 C459.80,60.20 460.11,63.34 461.30,66.00 C462.49,68.66 463.56,71.44 464.85,73.25 C466.14,75.06 466.52,75.96 469.05,76.85 C471.57,77.74 476.51,78.03 480.00,78.60 C483.49,79.17 486.28,79.55 490.00,80.25 C493.72,80.95 498.18,81.56 502.30,82.80 C506.42,84.04 510.58,85.64 514.70,87.70 C518.82,89.76 523.72,92.90 527.00,95.15 C530.28,97.40 532.33,99.37 534.40,101.20 C536.47,103.03 537.95,103.93 539.40,106.15 C540.85,108.37 542.17,112.03 543.10,114.50 C544.03,116.97 544.68,119.92 545.00,121.00" fill="none" stroke="#8c3c3c" stroke-width="1.3" stroke-linejoin="round" stroke-linecap="round" opacity="1.0"/>
<path d="M416.80,19.70 C418.67,21.13 424.13,24.88 428.00,28.30 C431.87,31.72 436.55,36.82 440.00,40.20 C443.45,43.58 445.70,45.75 448.70,48.60 C451.70,51.45 455.85,54.40 458.00,57.30 C460.15,60.20 460.42,63.32 461.60,66.00 C462.78,68.68 463.83,71.55 465.10,73.40 C466.37,75.25 466.72,76.18 469.20,77.10 C471.68,78.02 476.53,78.32 480.00,78.90 C483.47,79.48 486.28,79.88 490.00,80.60 C493.72,81.32 498.18,81.95 502.30,83.20 C506.42,84.45 510.58,86.05 514.70,88.10 C518.82,90.15 523.72,93.27 527.00,95.50 C530.28,97.73 532.33,99.68 534.40,101.50 C536.47,103.32 537.95,104.23 539.40,106.40 C540.85,108.57 542.17,112.07 543.10,114.50 C544.03,116.93 544.68,119.92 545.00,121.00" fill="none" stroke="#3c9c3c" stroke-width="1.3" stroke-linejoin="round" stroke-linecap="round" opacity="1.0"/>
<path d="M416.80,19.85 C418.67,21.28 424.13,25.04 428.00,28.45 C431.87,31.86 436.55,36.94 440.00,40.30 C443.45,43.66 445.65,45.77 448.70,48.60 C451.75,51.43 456.10,54.40 458.30,57.30 C460.50,60.20 460.72,63.29 461.90,66.00 C463.07,68.71 464.11,71.66 465.35,73.55 C466.59,75.44 466.91,76.41 469.35,77.35 C471.79,78.29 476.56,78.60 480.00,79.20 C483.44,79.80 486.28,80.22 490.00,80.95 C493.72,81.68 498.18,82.34 502.30,83.60 C506.42,84.86 510.58,86.46 514.70,88.50 C518.82,90.54 523.72,93.63 527.00,95.85 C530.28,98.07 532.33,100.00 534.40,101.80 C536.47,103.60 537.95,104.53 539.40,106.65 C540.85,108.77 542.17,112.11 543.10,114.50 C544.03,116.89 544.68,119.92 545.00,121.00" fill="none" stroke="#e03c82" stroke-width="1.3" stroke-linejoin="round" stroke-linecap="round" opacity="1.0"/>
<path d="M416.80,20.00 C418.67,21.43 424.13,25.20 428.00,28.60 C431.87,32.00 436.55,37.07 440.00,40.40 C443.45,43.73 445.60,45.78 448.70,48.60 C451.80,51.42 456.35,54.40 458.60,57.30 C460.85,60.20 461.03,63.27 462.20,66.00 C463.37,68.73 464.38,71.77 465.60,73.70 C466.82,75.63 467.10,76.63 469.50,77.60 C471.90,78.57 476.58,78.88 480.00,79.50 C483.42,80.12 486.28,80.55 490.00,81.30 C493.72,82.05 498.18,82.73 502.30,84.00 C506.42,85.27 510.58,86.87 514.70,88.90 C518.82,90.93 523.72,94.00 527.00,96.20 C530.28,98.40 532.33,100.32 534.40,102.10 C536.47,103.88 537.95,104.83 539.40,106.90 C540.85,108.97 542.17,112.15 543.10,114.50 C544.03,116.85 544.68,119.92 545.00,121.00" fill="none" stroke="#1a1a72" stroke-width="1.3" stroke-linejoin="round" stroke-linecap="round" opacity="1.0"/>
<path d="M416.80,20.15 C418.67,21.58 424.13,25.36 428.00,28.75 C431.87,32.14 436.55,37.19 440.00,40.50 C443.45,43.81 445.55,45.80 448.70,48.60 C451.85,51.40 456.60,54.40 458.90,57.30 C461.20,60.20 461.34,63.24 462.50,66.00 C463.66,68.76 464.66,71.88 465.85,73.85 C467.04,75.82 467.29,76.86 469.65,77.85 C472.01,78.84 476.61,79.17 480.00,79.80 C483.39,80.43 486.28,80.88 490.00,81.65 C493.72,82.42 498.18,83.12 502.30,84.40 C506.42,85.68 510.58,87.28 514.70,89.30 C518.82,91.32 523.72,94.37 527.00,96.55 C530.28,98.73 532.33,100.63 534.40,102.40 C536.47,104.17 537.95,105.13 539.40,107.15 C540.85,109.17 542.17,112.19 543.10,114.50 C544.03,116.81 544.68,119.92 545.00,121.00" fill="none" stroke="#22229c" stroke-width="1.3" stroke-linejoin="round" stroke-linecap="round" opacity="1.0"/>
<path d="M416.80,23.00 C420.67,23.55 432.73,25.23 440.00,26.30 C447.27,27.37 453.58,28.03 460.40,29.40 C467.22,30.77 474.93,33.13 480.90,34.50 C486.87,35.87 492.68,36.68 496.20,37.60 C499.72,38.52 500.30,39.17 502.00,40.00 C503.70,40.83 504.47,41.18 506.40,42.60 C508.33,44.02 511.33,46.13 513.60,48.50 C515.87,50.87 517.77,53.30 520.00,56.80 C522.23,60.30 524.92,65.22 527.00,69.50 C529.08,73.78 530.90,78.25 532.50,82.50 C534.10,86.75 535.43,91.08 536.60,95.00 C537.77,98.92 538.60,102.83 539.50,106.00 C540.40,109.17 541.28,111.50 542.00,114.00 C542.72,116.50 543.50,119.83 543.80,121.00" fill="none" stroke="#e8503e" stroke-width="1.3" stroke-linejoin="round" stroke-linecap="round" opacity="1.0"/>
<path d="M416.80,22.31 C420.67,22.85 432.73,24.50 440.00,25.57 C447.27,26.64 453.58,27.36 460.40,28.72 C467.22,30.08 474.93,32.36 480.90,33.71 C486.87,35.06 492.66,35.89 496.20,36.80 C499.74,37.71 500.38,38.31 502.14,39.17 C503.91,40.02 504.85,40.51 506.80,41.93 C508.75,43.36 511.62,45.39 513.87,47.72 C516.11,50.05 518.02,52.41 520.26,55.90 C522.49,59.39 525.19,64.34 527.28,68.63 C529.37,72.92 531.20,77.38 532.81,81.63 C534.42,85.89 535.76,90.23 536.93,94.18 C538.10,98.13 538.96,102.10 539.83,105.33 C540.71,108.56 541.52,110.94 542.20,113.56 C542.88,116.17 543.61,119.76 543.89,121.00" fill="none" stroke="#2a2ae0" stroke-width="1.3" stroke-linejoin="round" stroke-linecap="round" opacity="1.0"/>
<path d="M416.80,21.62 C420.67,22.16 432.73,23.76 440.00,24.83 C447.27,25.90 453.58,26.70 460.40,28.04 C467.22,29.39 474.93,31.60 480.90,32.92 C486.87,34.25 492.64,35.10 496.20,36.00 C499.76,36.90 500.46,37.46 502.29,38.33 C504.12,39.21 505.23,39.83 507.20,41.27 C509.17,42.70 511.91,44.66 514.13,46.94 C516.35,49.23 518.27,51.53 520.51,55.00 C522.75,58.47 525.45,63.47 527.56,67.77 C529.66,72.06 531.50,76.50 533.12,80.77 C534.74,85.03 536.09,89.37 537.27,93.36 C538.44,97.34 539.31,101.37 540.17,104.67 C541.02,107.96 541.76,110.39 542.40,113.11 C543.04,115.83 543.71,119.69 543.98,121.00" fill="none" stroke="#3c9c3c" stroke-width="1.3" stroke-linejoin="round" stroke-linecap="round" opacity="1.0"/>
<path d="M416.80,20.93 C420.67,21.46 432.73,23.03 440.00,24.10 C447.27,25.17 453.58,26.03 460.40,27.37 C467.22,28.71 474.93,30.83 480.90,32.13 C486.87,33.44 492.61,34.31 496.20,35.20 C499.79,36.09 500.53,36.60 502.43,37.50 C504.33,38.40 505.61,39.16 507.60,40.60 C509.59,42.04 512.21,43.92 514.40,46.17 C516.59,48.42 518.53,50.64 520.77,54.10 C523.01,57.56 525.72,62.60 527.83,66.90 C529.94,71.20 531.81,75.63 533.43,79.90 C535.06,84.17 536.42,88.52 537.60,92.53 C538.78,96.55 539.67,100.64 540.50,104.00 C541.33,107.36 542.01,109.83 542.60,112.67 C543.19,115.50 543.82,119.61 544.07,121.00" fill="none" stroke="#3a9c9c" stroke-width="1.3" stroke-linejoin="round" stroke-linecap="round" opacity="1.0"/>
<path d="M416.80,20.24 C420.67,20.76 432.73,22.29 440.00,23.37 C447.27,24.44 453.58,25.36 460.40,26.69 C467.22,28.02 474.93,30.06 480.90,31.34 C486.87,32.63 492.59,33.51 496.20,34.40 C499.81,35.29 500.61,35.74 502.58,36.67 C504.54,37.59 505.99,38.48 508.00,39.93 C510.01,41.39 512.50,43.18 514.67,45.39 C516.84,47.60 518.78,49.76 521.02,53.20 C523.26,56.64 525.99,61.73 528.11,66.03 C530.23,70.34 532.11,74.75 533.74,79.03 C535.38,83.31 536.75,87.66 537.93,91.71 C539.11,95.76 540.02,99.91 540.83,103.33 C541.64,106.75 542.25,109.28 542.80,112.22 C543.35,115.17 543.93,119.54 544.16,121.00" fill="none" stroke="#9c9c5c" stroke-width="1.3" stroke-linejoin="round" stroke-linecap="round" opacity="1.0"/>
<path d="M416.80,19.56 C420.67,20.07 432.73,21.56 440.00,22.63 C447.27,23.71 453.58,24.69 460.40,26.01 C467.22,27.33 474.93,29.29 480.90,30.56 C486.87,31.82 492.56,32.72 496.20,33.60 C499.84,34.48 500.69,34.89 502.72,35.83 C504.76,36.78 506.36,37.80 508.40,39.27 C510.44,40.73 512.79,42.44 514.93,44.61 C517.08,46.78 519.04,48.87 521.28,52.30 C523.52,55.73 526.26,60.86 528.39,65.17 C530.52,69.48 532.41,73.88 534.06,78.17 C535.70,82.45 537.08,86.81 538.27,90.89 C539.45,94.97 540.38,99.19 541.17,102.67 C541.96,106.15 542.49,108.72 543.00,111.78 C543.51,114.83 544.04,119.46 544.24,121.00" fill="none" stroke="#8c3c3c" stroke-width="1.3" stroke-linejoin="round" stroke-linecap="round" opacity="1.0"/>
<path d="M416.80,18.87 C420.67,19.37 432.73,20.82 440.00,21.90 C447.27,22.98 453.58,24.02 460.40,25.33 C467.22,26.64 474.93,28.52 480.90,29.77 C486.87,31.01 492.54,31.93 496.20,32.80 C499.86,33.67 500.77,34.03 502.87,35.00 C504.97,35.97 506.74,37.13 508.80,38.60 C510.86,40.07 513.08,41.70 515.20,43.83 C517.32,45.97 519.29,47.99 521.53,51.40 C523.78,54.81 526.53,59.98 528.67,64.30 C530.81,68.62 532.71,73.01 534.37,77.30 C536.02,81.59 537.41,85.95 538.60,90.07 C539.79,94.18 540.73,98.46 541.50,102.00 C542.27,105.54 542.73,108.17 543.20,111.33 C543.67,114.50 544.14,119.39 544.33,121.00" fill="none" stroke="#e03c82" stroke-width="1.3" stroke-linejoin="round" stroke-linecap="round" opacity="1.0"/>
<path d="M416.80,18.18 C420.67,18.68 432.73,20.09 440.00,21.17 C447.27,22.25 453.58,23.35 460.40,24.66 C467.22,25.96 474.93,27.75 480.90,28.98 C486.87,30.20 492.51,31.14 496.20,32.00 C499.89,32.86 500.84,33.18 503.01,34.17 C505.18,35.16 507.12,36.45 509.20,37.93 C511.28,39.41 513.37,40.96 515.47,43.06 C517.56,45.15 519.54,47.10 521.79,50.50 C524.04,53.90 526.80,59.11 528.94,63.43 C531.09,67.76 533.01,72.13 534.68,76.43 C536.34,80.74 537.74,85.09 538.93,89.24 C540.13,93.39 541.09,97.73 541.83,101.33 C542.58,104.94 542.97,107.61 543.40,110.89 C543.83,114.17 544.25,119.31 544.42,121.00" fill="none" stroke="#e040e0" stroke-width="1.3" stroke-linejoin="round" stroke-linecap="round" opacity="1.0"/>
<path d="M416.80,17.49 C420.67,17.98 432.73,19.35 440.00,20.43 C447.27,21.51 453.58,22.69 460.40,23.98 C467.22,25.27 474.93,26.99 480.90,28.19 C486.87,29.39 492.49,30.34 496.20,31.20 C499.91,32.06 500.92,32.32 503.16,33.33 C505.39,34.34 507.50,35.78 509.60,37.27 C511.70,38.76 513.66,40.22 515.73,42.28 C517.81,44.33 519.80,46.22 522.04,49.60 C524.29,52.98 527.06,58.24 529.22,62.57 C531.38,66.89 533.31,71.26 534.99,75.57 C536.66,79.88 538.07,84.24 539.27,88.42 C540.46,92.61 541.44,97.00 542.17,100.67 C542.89,104.34 543.21,107.06 543.60,110.44 C543.99,113.83 544.36,119.24 544.51,121.00" fill="none" stroke="#22229c" stroke-width="1.3" stroke-linejoin="round" stroke-linecap="round" opacity="1.0"/>
<path d="M416.80,16.80 C420.67,17.28 432.73,18.62 440.00,19.70 C447.27,20.78 453.58,22.02 460.40,23.30 C467.22,24.58 474.93,26.22 480.90,27.40 C486.87,28.58 492.47,29.55 496.20,30.40 C499.93,31.25 501.00,31.47 503.30,32.50 C505.60,33.53 507.88,35.10 510.00,36.60 C512.12,38.10 513.95,39.48 516.00,41.50 C518.05,43.52 520.05,45.33 522.30,48.70 C524.55,52.07 527.33,57.37 529.50,61.70 C531.67,66.03 533.62,70.38 535.30,74.70 C536.98,79.02 538.40,83.38 539.60,87.60 C540.80,91.82 541.80,96.27 542.50,100.00 C543.20,103.73 543.45,106.50 543.80,110.00 C544.15,113.50 544.47,119.17 544.60,121.00" fill="none" stroke="#1a1a72" stroke-width="1.3" stroke-linejoin="round" stroke-linecap="round" opacity="1.0"/>
<path d="M416.80,30.80 C418.67,30.83 424.13,30.88 428.00,31.00 C431.87,31.12 434.60,30.83 440.00,31.50 C445.40,32.17 453.58,33.82 460.40,35.00 C467.22,36.18 474.93,37.48 480.90,38.60 C486.87,39.72 491.95,40.50 496.20,41.70 C500.45,42.90 503.77,44.67 506.40,45.80 C509.03,46.93 510.40,47.47 512.00,48.50 C513.60,49.53 515.33,51.42 516.00,52.00" fill="none" stroke="#111111" stroke-width="1.3" stroke-linejoin="round" stroke-linecap="round" opacity="1.0"/>
<path d="M671.20,72.50 C667.67,73.08 656.03,74.83 650.00,76.00 C643.97,77.17 640.83,78.17 635.00,79.50 C629.17,80.83 620.33,82.75 615.00,84.00 C609.67,85.25 607.17,86.03 603.00,87.00 C598.83,87.97 594.17,88.82 590.00,89.85 C585.83,90.88 582.00,91.75 578.00,93.20 C574.00,94.65 569.50,96.71 566.00,98.55 C562.50,100.39 559.67,102.18 557.00,104.25 C554.33,106.32 551.83,108.83 550.00,110.95 C548.17,113.08 546.67,115.99 546.00,117.00" fill="none" stroke="#3a9c9c" stroke-width="1.3" stroke-linejoin="round" stroke-linecap="round" opacity="1.0"/>
<path d="M671.20,71.70 C667.67,72.28 656.03,74.03 650.00,75.20 C643.97,76.37 640.83,77.37 635.00,78.70 C629.17,80.03 620.33,81.95 615.00,83.20 C609.67,84.45 607.17,85.21 603.00,86.20 C598.83,87.19 594.17,88.07 590.00,89.13 C585.83,90.19 582.00,91.08 578.00,92.56 C574.00,94.04 569.50,96.11 566.00,97.99 C562.50,99.87 559.67,101.73 557.00,103.85 C554.33,105.97 551.83,108.52 550.00,110.71 C548.17,112.90 546.67,115.95 546.00,117.00" fill="none" stroke="#9c9c5c" stroke-width="1.3" stroke-linejoin="round" stroke-linecap="round" opacity="1.0"/>
<path d="M671.20,70.90 C667.67,71.48 656.03,73.23 650.00,74.40 C643.97,75.57 640.83,76.57 635.00,77.90 C629.17,79.23 620.33,81.15 615.00,82.40 C609.67,83.65 607.17,84.40 603.00,85.40 C598.83,86.40 594.17,87.32 590.00,88.41 C585.83,89.50 582.00,90.42 578.00,91.92 C574.00,93.42 569.50,95.51 566.00,97.43 C562.50,99.35 559.67,101.28 557.00,103.45 C554.33,105.62 551.83,108.21 550.00,110.47 C548.17,112.73 546.67,115.91 546.00,117.00" fill="none" stroke="#8c3c3c" stroke-width="1.3" stroke-linejoin="round" stroke-linecap="round" opacity="1.0"/>
<path d="M671.20,70.10 C667.67,70.68 656.03,72.43 650.00,73.60 C643.97,74.77 640.83,75.77 635.00,77.10 C629.17,78.43 620.33,80.35 615.00,81.60 C609.67,82.85 607.17,83.58 603.00,84.60 C598.83,85.61 594.17,86.58 590.00,87.69 C585.83,88.80 582.00,89.75 578.00,91.28 C574.00,92.81 569.50,94.91 566.00,96.87 C562.50,98.83 559.67,100.82 557.00,103.05 C554.33,105.28 551.83,107.91 550.00,110.23 C548.17,112.56 546.67,115.87 546.00,117.00" fill="none" stroke="#3c9c3c" stroke-width="1.3" stroke-linejoin="round" stroke-linecap="round" opacity="1.0"/>
<path d="M671.20,69.30 C667.67,69.88 656.03,71.63 650.00,72.80 C643.97,73.97 640.83,74.97 635.00,76.30 C629.17,77.63 620.33,79.55 615.00,80.80 C609.67,82.05 607.17,82.77 603.00,83.80 C598.83,84.83 594.17,85.83 590.00,86.97 C585.83,88.11 582.00,89.08 578.00,90.64 C574.00,92.20 569.50,94.31 566.00,96.31 C562.50,98.31 559.67,100.37 557.00,102.65 C554.33,104.93 551.83,107.60 550.00,109.99 C548.17,112.38 546.67,115.83 546.00,117.00" fill="none" stroke="#e040e0" stroke-width="1.3" stroke-linejoin="round" stroke-linecap="round" opacity="1.0"/>
<path d="M671.20,68.50 C667.67,69.08 656.03,70.83 650.00,72.00 C643.97,73.17 640.83,74.17 635.00,75.50 C629.17,76.83 620.33,78.75 615.00,80.00 C609.67,81.25 607.17,81.96 603.00,83.00 C598.83,84.04 594.17,85.08 590.00,86.25 C585.83,87.42 582.00,88.42 578.00,90.00 C574.00,91.58 569.50,93.71 566.00,95.75 C562.50,97.79 559.67,99.92 557.00,102.25 C554.33,104.58 551.83,107.29 550.00,109.75 C548.17,112.21 546.67,115.79 546.00,117.00" fill="none" stroke="#e03c82" stroke-width="1.3" stroke-linejoin="round" stroke-linecap="round" opacity="1.0"/>
<path d="M671.20,67.70 C667.67,68.28 656.03,70.03 650.00,71.20 C643.97,72.37 640.83,73.37 635.00,74.70 C629.17,76.03 620.33,77.95 615.00,79.20 C609.67,80.45 607.17,81.15 603.00,82.20 C598.83,83.25 594.17,84.34 590.00,85.53 C585.83,86.72 582.00,87.75 578.00,89.36 C574.00,90.97 569.50,93.11 566.00,95.19 C562.50,97.27 559.67,99.46 557.00,101.85 C554.33,104.24 551.83,106.98 550.00,109.51 C548.17,112.04 546.67,115.75 546.00,117.00" fill="none" stroke="#1a1a72" stroke-width="1.3" stroke-linejoin="round" stroke-linecap="round" opacity="1.0"/>
<path d="M671.20,77.70 C666.00,78.58 651.28,81.17 640.00,83.00 C628.72,84.83 613.17,87.03 603.50,88.70 C593.83,90.37 587.58,91.53 582.00,93.00 C576.42,94.47 573.50,95.75 570.00,97.50 C566.50,99.25 563.83,101.75 561.00,103.50 C558.17,105.25 554.83,106.83 553.00,108.00 C551.17,109.17 551.00,109.17 550.00,110.50 C549.00,111.83 547.83,114.08 547.00,116.00 C546.17,117.92 545.33,121.00 545.00,122.00" fill="none" stroke="#2a2ae0" stroke-width="1.3" stroke-linejoin="round" stroke-linecap="round" opacity="1.0"/>
<path d="M545.00,122.00 C545.50,120.92 547.00,117.50 548.00,115.50 C549.00,113.50 549.67,111.83 551.00,110.00 C552.33,108.17 553.50,106.25 556.00,104.50 C558.50,102.75 562.00,101.08 566.00,99.50 C570.00,97.92 573.75,96.58 580.00,95.00 C586.25,93.42 593.50,91.75 603.50,90.00 C613.50,88.25 628.72,86.33 640.00,84.50 C651.28,82.67 666.00,79.92 671.20,79.00" fill="none" stroke="#2a2ae0" stroke-width="1.3" stroke-linejoin="round" stroke-linecap="round" opacity="1.0"/>
<path d="M671.20,79.40 C666.00,80.42 651.28,83.37 640.00,85.50 C628.72,87.63 612.67,90.45 603.50,92.20 C594.33,93.95 590.58,94.70 585.00,96.00 C579.42,97.30 573.83,98.58 570.00,100.00 C566.17,101.42 564.50,102.75 562.00,104.50 C559.50,106.25 557.08,108.25 555.00,110.50 C552.92,112.75 551.00,115.63 549.50,118.00 C548.00,120.37 546.68,122.17 546.00,124.70 C545.32,127.23 545.50,131.78 545.40,133.20" fill="none" stroke="#e8503e" stroke-width="1.3" stroke-linejoin="round" stroke-linecap="round" opacity="1.0"/>
<path d="M545.40,133.20 C546.02,131.77 547.83,127.13 549.10,124.60 C550.37,122.07 551.35,120.07 553.00,118.00 C554.65,115.93 556.67,114.12 559.00,112.20 C561.33,110.28 563.70,108.12 567.00,106.50 C570.30,104.88 573.30,104.17 578.80,102.50 C584.30,100.83 590.63,98.83 600.00,96.50 C609.37,94.17 623.13,91.00 635.00,88.50 C646.87,86.00 665.17,82.67 671.20,81.50" fill="none" stroke="#e8503e" stroke-width="1.3" stroke-linejoin="round" stroke-linecap="round" opacity="1.0"/>
<path d="M544.50,195.00 C544.65,190.83 545.12,178.25 545.40,170.00 C545.68,161.75 545.78,149.82 546.20,145.50 C546.62,141.18 547.25,146.03 547.90,144.10 C548.55,142.17 549.35,135.22 550.10,133.90 C550.85,132.58 551.45,134.50 552.40,136.20 C553.35,137.90 554.87,144.48 555.80,144.10 C556.73,143.72 557.25,135.97 558.00,133.90 C558.75,131.83 559.63,132.85 560.30,131.70 C560.97,130.55 560.98,128.62 562.00,127.00 C563.02,125.38 564.42,123.83 566.40,122.00 C568.38,120.17 571.63,117.42 573.90,116.00 C576.17,114.58 577.32,114.92 580.00,113.50 C582.68,112.08 586.67,109.65 590.00,107.50 C593.33,105.35 596.28,103.40 600.00,100.60 C603.72,97.80 608.18,93.78 612.30,90.70 C616.42,87.62 621.75,84.13 624.70,82.10 C627.65,80.07 627.45,80.10 630.00,78.50 C632.55,76.90 636.77,74.37 640.00,72.50 C643.23,70.63 647.23,68.78 649.40,67.30 C651.57,65.82 650.95,64.83 653.00,63.60 C655.05,62.37 658.60,61.03 661.70,59.90 C664.80,58.77 669.95,57.32 671.60,56.80" fill="none" stroke="#111111" stroke-width="1.3" stroke-linejoin="round" stroke-linecap="round" opacity="1.0"/>
<path d="M549.00,129.50 C550.50,128.83 554.92,127.02 558.00,125.50 C561.08,123.98 563.83,123.23 567.50,120.40 C571.17,117.57 576.12,112.02 580.00,108.50 C583.88,104.98 587.47,101.65 590.80,99.30 C594.13,96.95 595.38,96.85 600.00,94.40 C604.62,91.95 613.97,87.07 618.50,84.60 C623.03,82.13 624.45,81.12 627.20,79.60 C629.95,78.08 632.03,77.02 635.00,75.50 C637.97,73.98 643.33,71.33 645.00,70.50" fill="none" stroke="#111111" stroke-width="1.3" stroke-linejoin="round" stroke-linecap="round" opacity="1.0"/>
<path d="M544.30,118.00 C544.50,117.20 544.72,114.62 545.50,113.20 C546.28,111.78 547.47,110.77 549.00,109.50 C550.53,108.23 552.67,107.18 554.70,105.60 C556.73,104.02 558.65,101.95 561.20,100.00 C563.75,98.05 566.48,95.82 570.00,93.90 C573.52,91.98 576.72,90.35 582.30,88.50 C587.88,86.65 594.67,84.75 603.50,82.80 C612.33,80.85 626.72,78.47 635.30,76.80 C643.88,75.13 649.02,74.07 655.00,72.80 C660.98,71.53 668.50,69.80 671.20,69.20" fill="none" stroke="#9c9c5c" stroke-width="1.3" stroke-linejoin="round" stroke-linecap="round" opacity="1.0"/>
<path d="M544.30,118.00 C544.50,117.17 544.72,114.51 545.50,113.05 C546.28,111.59 547.47,110.54 549.00,109.25 C550.53,107.96 552.67,106.90 554.70,105.30 C556.73,103.70 558.65,101.62 561.20,99.65 C563.75,97.68 566.48,95.42 570.00,93.50 C573.52,91.58 576.72,89.96 582.30,88.10 C587.88,86.24 594.67,84.32 603.50,82.35 C612.33,80.38 626.72,77.97 635.30,76.30 C643.88,74.62 649.02,73.57 655.00,72.30 C660.98,71.03 668.50,69.30 671.20,68.70" fill="none" stroke="#3a9c9c" stroke-width="1.3" stroke-linejoin="round" stroke-linecap="round" opacity="1.0"/>
<path d="M544.30,118.00 C544.50,117.15 544.72,114.40 545.50,112.90 C546.28,111.40 547.47,110.32 549.00,109.00 C550.53,107.68 552.67,106.62 554.70,105.00 C556.73,103.38 558.65,101.28 561.20,99.30 C563.75,97.32 566.48,95.03 570.00,93.10 C573.52,91.17 576.72,89.57 582.30,87.70 C587.88,85.83 594.67,83.88 603.50,81.90 C612.33,79.92 626.72,77.48 635.30,75.80 C643.88,74.12 649.02,73.07 655.00,71.80 C660.98,70.53 668.50,68.80 671.20,68.20" fill="none" stroke="#3c9c3c" stroke-width="1.3" stroke-linejoin="round" stroke-linecap="round" opacity="1.0"/>
<path d="M544.30,118.00 C544.50,117.12 544.72,114.29 545.50,112.75 C546.28,111.21 547.47,110.09 549.00,108.75 C550.53,107.41 552.67,106.33 554.70,104.70 C556.73,103.07 558.65,100.95 561.20,98.95 C563.75,96.95 566.48,94.64 570.00,92.70 C573.52,90.76 576.72,89.17 582.30,87.30 C587.88,85.42 594.67,83.45 603.50,81.45 C612.33,79.45 626.72,76.99 635.30,75.30 C643.88,73.61 649.02,72.57 655.00,71.30 C660.98,70.03 668.50,68.30 671.20,67.70" fill="none" stroke="#8c3c3c" stroke-width="1.3" stroke-linejoin="round" stroke-linecap="round" opacity="1.0"/>
<path d="M544.30,118.00 C544.50,117.10 544.72,114.18 545.50,112.60 C546.28,111.02 547.47,109.87 549.00,108.50 C550.53,107.13 552.67,106.05 554.70,104.40 C556.73,102.75 558.65,100.62 561.20,98.60 C563.75,96.58 566.48,94.25 570.00,92.30 C573.52,90.35 576.72,88.78 582.30,86.90 C587.88,85.02 594.67,83.02 603.50,81.00 C612.33,78.98 626.72,76.50 635.30,74.80 C643.88,73.10 649.02,72.07 655.00,70.80 C660.98,69.53 668.50,67.80 671.20,67.20" fill="none" stroke="#e040e0" stroke-width="1.3" stroke-linejoin="round" stroke-linecap="round" opacity="1.0"/>
<path d="M544.30,118.00 C544.50,117.08 544.72,114.08 545.50,112.45 C546.28,110.83 547.47,109.64 549.00,108.25 C550.53,106.86 552.67,105.77 554.70,104.10 C556.73,102.43 558.65,100.28 561.20,98.25 C563.75,96.22 566.48,93.86 570.00,91.90 C573.52,89.94 576.72,88.39 582.30,86.50 C587.88,84.61 594.67,82.58 603.50,80.55 C612.33,78.52 626.72,76.01 635.30,74.30 C643.88,72.59 649.02,71.57 655.00,70.30 C660.98,69.03 668.50,67.30 671.20,66.70" fill="none" stroke="#e03c82" stroke-width="1.3" stroke-linejoin="round" stroke-linecap="round" opacity="1.0"/>
<path d="M544.30,118.00 C544.50,117.05 544.72,113.97 545.50,112.30 C546.28,110.63 547.47,109.42 549.00,108.00 C550.53,106.58 552.67,105.48 554.70,103.80 C556.73,102.12 558.65,99.95 561.20,97.90 C563.75,95.85 566.48,93.47 570.00,91.50 C573.52,89.53 576.72,88.00 582.30,86.10 C587.88,84.20 594.67,82.15 603.50,80.10 C612.33,78.05 626.72,75.52 635.30,73.80 C643.88,72.08 649.02,71.07 655.00,69.80 C660.98,68.53 668.50,66.80 671.20,66.20" fill="none" stroke="#2a2ae0" stroke-width="1.3" stroke-linejoin="round" stroke-linecap="round" opacity="1.0"/>
<path d="M544.30,118.00 C544.50,117.03 544.72,113.86 545.50,112.15 C546.28,110.44 547.47,109.19 549.00,107.75 C550.53,106.31 552.67,105.20 554.70,103.50 C556.73,101.80 558.65,99.62 561.20,97.55 C563.75,95.48 566.48,93.08 570.00,91.10 C573.52,89.13 576.72,87.61 582.30,85.70 C587.88,83.79 594.67,81.72 603.50,79.65 C612.33,77.58 626.72,75.03 635.30,73.30 C643.88,71.57 649.02,70.57 655.00,69.30 C660.98,68.03 668.50,66.30 671.20,65.70" fill="none" stroke="#1a1a72" stroke-width="1.3" stroke-linejoin="round" stroke-linecap="round" opacity="1.0"/>
<path d="M544.30,118.00 C544.50,117.00 544.72,113.75 545.50,112.00 C546.28,110.25 547.47,108.97 549.00,107.50 C550.53,106.03 552.67,104.92 554.70,103.20 C556.73,101.48 558.65,99.28 561.20,97.20 C563.75,95.12 566.48,92.68 570.00,90.70 C573.52,88.72 576.72,87.22 582.30,85.30 C587.88,83.38 594.67,81.28 603.50,79.20 C612.33,77.12 626.72,74.53 635.30,72.80 C643.88,71.07 649.02,70.07 655.00,68.80 C660.98,67.53 668.50,65.80 671.20,65.20" fill="none" stroke="#22229c" stroke-width="1.3" stroke-linejoin="round" stroke-linecap="round" opacity="1.0"/>
<path d="M62.20,365.20 C63.17,365.47 65.77,366.40 68.00,366.80 C70.23,367.20 72.62,367.13 75.60,367.60 C78.58,368.07 81.83,369.00 85.90,369.60 C89.97,370.20 95.15,370.65 100.00,371.20 C104.85,371.75 110.00,372.45 115.00,372.90 C120.00,373.35 124.17,373.53 130.00,373.90 C135.83,374.27 144.17,374.78 150.00,375.10 C155.83,375.42 160.47,375.63 165.00,375.80 C169.53,375.97 172.70,375.97 177.20,376.10 C181.70,376.23 189.53,376.52 192.00,376.60" fill="none" stroke="#e03030" stroke-width="1.3" stroke-linejoin="round" stroke-linecap="round" opacity="1.0"/>
<path d="M178.00,377.00 C175.83,377.10 169.67,377.20 165.00,377.60 C160.33,378.00 154.70,378.75 150.00,379.40 C145.30,380.05 141.23,380.57 136.80,381.50 C132.37,382.43 127.18,383.75 123.40,385.00 C119.62,386.25 116.55,387.47 114.10,389.00 C111.65,390.53 110.15,392.28 108.70,394.20 C107.25,396.12 106.28,398.02 105.40,400.50 C104.52,402.98 103.93,406.18 103.40,409.10 C102.87,412.02 102.60,417.85 102.20,418.00 C101.80,418.15 101.50,413.00 101.00,410.00 C100.50,407.00 99.90,402.75 99.20,400.00 C98.50,397.25 97.75,395.58 96.80,393.50 C95.85,391.42 94.72,389.12 93.50,387.50 C92.28,385.88 90.77,384.90 89.50,383.80 C88.23,382.70 87.40,382.03 85.90,380.90 C84.40,379.77 82.22,378.20 80.50,377.00 C78.78,375.80 77.68,374.95 75.60,373.70 C73.52,372.45 70.23,370.88 68.00,369.50 C65.77,368.12 63.17,366.08 62.20,365.40" fill="none" stroke="#e03030" stroke-width="1.3" stroke-linejoin="round" stroke-linecap="round" opacity="1.0"/>
<path d="M179.30,376.30 C182.75,376.22 193.22,376.02 200.00,375.80 C206.78,375.58 214.67,375.22 220.00,375.00 C225.33,374.78 228.30,374.80 232.00,374.50 C235.70,374.20 239.58,373.87 242.20,373.20 C244.82,372.53 246.12,371.95 247.70,370.50 C249.28,369.05 250.45,366.67 251.70,364.50 C252.95,362.33 254.08,359.92 255.20,357.50 C256.32,355.08 257.18,352.63 258.40,350.00 C259.62,347.37 261.12,344.28 262.50,341.70 C263.88,339.12 265.42,336.70 266.70,334.50 C267.98,332.30 268.87,330.33 270.20,328.50 C271.53,326.67 272.62,325.75 274.70,323.50 C276.78,321.25 280.37,317.67 282.70,315.00 C285.03,312.33 286.87,310.08 288.70,307.50 C290.53,304.92 292.28,302.00 293.70,299.50 C295.12,297.00 296.37,294.50 297.20,292.50 C298.03,290.50 298.80,288.92 298.70,287.50 C298.60,286.08 296.95,284.58 296.60,284.00" fill="none" stroke="#e03030" stroke-width="1.3" stroke-linejoin="round" stroke-linecap="round" opacity="1.0"/>
<path d="M296.30,283.40 C296.22,282.43 297.08,278.95 295.80,277.60 C294.52,276.25 291.87,275.65 288.60,275.30 C285.33,274.95 280.85,274.95 276.20,275.50 C271.55,276.05 265.00,277.05 260.70,278.60 C256.40,280.15 254.00,281.72 250.40,284.80 C246.80,287.88 242.00,293.23 239.10,297.10 C236.20,300.97 234.87,304.52 233.00,308.00 C231.13,311.48 229.85,314.13 227.90,318.00 C225.95,321.87 223.50,326.82 221.30,331.20 C219.10,335.58 216.62,339.92 214.70,344.30 C212.78,348.68 211.17,352.72 209.80,357.50 C208.43,362.28 207.30,369.58 206.50,373.00 C205.70,376.42 205.25,377.17 205.00,378.00" fill="none" stroke="#e03030" stroke-width="1.3" stroke-linejoin="round" stroke-linecap="round" opacity="1.0"/>
<path d="M204.00,376.00 C203.58,377.67 202.08,382.17 201.50,386.00 C200.92,389.83 200.83,398.33 200.50,399.00 C200.17,399.67 200.00,393.00 199.50,390.00 C199.00,387.00 198.42,383.08 197.50,381.00 C196.58,378.92 195.58,378.20 194.00,377.50 C192.42,376.80 189.00,376.92 188.00,376.80" fill="none" stroke="#e03030" stroke-width="1.3" stroke-linejoin="round" stroke-linecap="round" opacity="1.0"/>
<path d="M62.20,364.00 C63.17,364.25 65.77,365.08 68.00,365.50 C70.23,365.92 72.62,365.95 75.60,366.50 C78.58,367.05 81.83,368.17 85.90,368.80 C89.97,369.43 95.15,369.73 100.00,370.30 C104.85,370.87 110.00,371.70 115.00,372.20 C120.00,372.70 124.17,372.88 130.00,373.30 C135.83,373.72 144.17,374.33 150.00,374.70 C155.83,375.07 160.47,375.30 165.00,375.50 C169.53,375.70 173.87,375.80 177.20,375.90 C180.53,376.00 182.53,376.02 185.00,376.10 C187.47,376.18 190.83,376.35 192.00,376.40" fill="none" stroke="#90904e" stroke-width="1.3" stroke-linejoin="round" stroke-linecap="round" opacity="1.0"/>
<path d="M178.00,376.80 C175.83,376.88 169.67,376.90 165.00,377.30 C160.33,377.70 154.70,378.53 150.00,379.20 C145.30,379.87 141.23,380.38 136.80,381.30 C132.37,382.22 127.18,383.47 123.40,384.70 C119.62,385.93 116.55,387.17 114.10,388.70 C111.65,390.23 110.15,392.05 108.70,393.90 C107.25,395.75 106.28,397.27 105.40,399.80 C104.52,402.33 103.93,404.73 103.40,409.10 C102.87,413.47 102.59,425.85 102.20,426.00 C101.81,426.15 101.56,414.31 101.09,410.00 C100.62,405.69 100.07,402.91 99.39,400.15 C98.72,397.39 98.00,395.60 97.05,393.45 C96.11,391.31 94.96,388.99 93.72,387.27 C92.49,385.56 90.95,384.40 89.65,383.16 C88.35,381.91 87.43,381.04 85.90,379.82 C84.38,378.60 82.22,377.07 80.50,375.85 C78.78,374.62 77.68,373.72 75.60,372.45 C73.52,371.19 70.23,369.60 68.00,368.23 C65.77,366.85 63.17,364.88 62.20,364.21" fill="none" stroke="#90904e" stroke-width="1.3" stroke-linejoin="round" stroke-linecap="round" opacity="1.0"/>
<path d="M179.30,376.30 C181.08,376.25 186.55,376.12 190.00,376.00 C193.45,375.88 196.33,375.80 200.00,375.60 C203.67,375.40 206.33,375.03 212.00,374.80 C217.67,374.57 229.33,374.47 234.00,374.20 C238.67,373.93 238.08,373.82 240.00,373.20 C241.92,372.58 243.92,371.95 245.50,370.50 C247.08,369.05 248.25,366.67 249.50,364.50 C250.75,362.33 251.88,359.92 253.00,357.50 C254.12,355.08 254.98,352.63 256.20,350.00 C257.42,347.37 258.92,344.28 260.30,341.70 C261.68,339.12 263.22,336.70 264.50,334.50 C265.78,332.30 266.67,330.33 268.00,328.50 C269.33,326.67 270.42,325.75 272.50,323.50 C274.58,321.25 278.17,317.67 280.50,315.00 C282.83,312.33 284.67,310.08 286.50,307.50 C288.33,304.92 290.08,302.00 291.50,299.50 C292.92,297.00 294.17,294.50 295.00,292.50 C295.83,290.50 296.25,288.72 296.50,287.50 C296.75,286.28 296.50,285.58 296.50,285.20" fill="none" stroke="#90904e" stroke-width="1.3" stroke-linejoin="round" stroke-linecap="round" opacity="1.0"/>
<path d="M296.30,286.80 C294.67,287.10 289.85,288.25 286.50,288.60 C283.15,288.95 279.63,288.68 276.20,288.90 C272.77,289.12 269.33,289.22 265.90,289.90 C262.47,290.58 259.03,291.45 255.60,293.00 C252.17,294.55 247.90,297.45 245.30,299.20 C242.70,300.95 242.08,300.92 240.00,303.50 C237.92,306.08 235.37,310.90 232.80,314.70 C230.23,318.50 227.07,322.45 224.60,326.30 C222.13,330.15 220.20,333.70 218.00,337.80 C215.80,341.90 213.32,345.97 211.40,350.90 C209.48,355.83 207.65,363.22 206.50,367.40 C205.35,371.58 204.83,374.57 204.50,376.00" fill="none" stroke="#90904e" stroke-width="1.3" stroke-linejoin="round" stroke-linecap="round" opacity="1.0"/>
<path d="M201.50,376.00 C201.22,377.67 200.17,381.83 199.80,386.00 C199.43,390.17 199.55,400.00 199.30,401.00 C199.05,402.00 198.77,395.17 198.30,392.00 C197.83,388.83 197.22,384.42 196.50,382.00 C195.78,379.58 195.08,378.40 194.00,377.50 C192.92,376.60 192.00,376.78 190.00,376.60 C188.00,376.42 183.33,376.43 182.00,376.40" fill="none" stroke="#90904e" stroke-width="1.3" stroke-linejoin="round" stroke-linecap="round" opacity="1.0"/>
<path d="M176.50,376.00 C176.80,376.83 177.88,379.17 178.30,381.00 C178.72,382.83 178.68,387.17 179.00,387.00 C179.32,386.83 179.70,381.73 180.20,380.00 C180.70,378.27 181.70,377.17 182.00,376.60" fill="none" stroke="#90904e" stroke-width="1.3" stroke-linejoin="round" stroke-linecap="round" opacity="1.0"/>
<path d="M62.20,362.38 C63.17,362.71 65.77,363.77 68.00,364.38 C70.23,364.98 72.62,365.27 75.60,365.98 C78.58,366.68 81.83,367.90 85.90,368.60 C89.97,369.30 95.15,369.57 100.00,370.15 C104.85,370.73 110.00,371.57 115.00,372.07 C120.00,372.58 124.17,372.75 130.00,373.18 C135.83,373.60 144.17,374.24 150.00,374.62 C155.83,375.01 160.47,375.29 165.00,375.50 C169.53,375.71 173.87,375.80 177.20,375.90 C180.53,376.00 182.53,376.02 185.00,376.10 C187.47,376.18 190.83,376.35 192.00,376.40" fill="none" stroke="#2f9090" stroke-width="1.3" stroke-linejoin="round" stroke-linecap="round" opacity="1.0"/>
<path d="M178.00,376.80 C175.83,376.88 169.67,376.93 165.00,377.30 C160.33,377.67 154.70,378.37 150.00,379.00 C145.30,379.63 141.23,380.17 136.80,381.07 C132.37,381.98 127.18,383.22 123.40,384.45 C119.62,385.68 116.55,386.91 114.10,388.45 C111.65,389.99 110.15,391.81 108.70,393.70 C107.25,395.59 106.28,397.23 105.40,399.80 C104.52,402.37 103.93,406.07 103.40,409.10 C102.87,412.13 102.56,417.85 102.20,418.00 C101.84,418.15 101.64,412.94 101.22,410.00 C100.80,407.06 100.30,403.13 99.67,400.36 C99.04,397.59 98.35,395.63 97.42,393.39 C96.48,391.16 95.30,388.81 94.04,386.96 C92.78,385.10 91.22,383.69 89.86,382.24 C88.51,380.80 87.46,379.63 85.90,378.29 C84.34,376.95 82.22,375.48 80.50,374.21 C78.78,372.94 77.68,371.99 75.60,370.69 C73.52,369.39 70.23,367.78 68.00,366.42 C65.77,365.06 63.17,363.18 62.20,362.54" fill="none" stroke="#2f9090" stroke-width="1.3" stroke-linejoin="round" stroke-linecap="round" opacity="1.0"/>
<path d="M179.30,376.30 C181.08,376.25 186.55,376.12 190.00,376.00 C193.45,375.88 196.33,375.80 200.00,375.60 C203.67,375.40 206.67,375.05 212.00,374.80 C217.33,374.55 227.67,374.41 232.00,374.12 C236.33,373.84 236.08,373.70 238.00,373.10 C239.92,372.50 241.98,371.93 243.53,370.50 C245.07,369.07 246.08,366.73 247.28,364.50 C248.47,362.27 249.56,359.74 250.70,357.15 C251.84,354.56 252.78,351.61 254.12,348.95 C255.47,346.29 257.29,343.69 258.75,341.20 C260.21,338.71 261.57,336.25 262.88,334.00 C264.18,331.75 265.27,329.55 266.57,327.70 C267.88,325.85 268.73,325.13 270.73,322.93 C272.72,320.72 276.22,317.16 278.52,314.48 C280.83,311.79 282.77,309.34 284.57,306.80 C286.38,304.26 287.95,301.64 289.35,299.25 C290.75,296.86 291.99,294.46 293.00,292.45 C294.01,290.44 294.87,288.43 295.43,287.18 C295.98,285.93 296.18,285.32 296.32,284.95" fill="none" stroke="#2f9090" stroke-width="1.3" stroke-linejoin="round" stroke-linecap="round" opacity="1.0"/>
<path d="M296.30,286.18 C294.67,286.35 289.85,287.02 286.50,287.25 C283.15,287.48 279.63,287.32 276.20,287.55 C272.77,287.78 269.33,287.93 265.90,288.62 C262.47,289.32 259.03,290.22 255.60,291.73 C252.17,293.23 247.98,295.83 245.30,297.65 C242.62,299.47 241.65,300.05 239.50,302.62 C237.35,305.20 235.09,309.34 232.40,313.07 C229.71,316.81 225.98,321.20 223.38,325.05 C220.77,328.90 218.97,332.12 216.78,336.15 C214.58,340.18 212.06,344.45 210.18,349.25 C208.29,354.05 206.61,360.51 205.47,364.92 C204.34,369.34 203.70,373.95 203.35,375.75" fill="none" stroke="#2f9090" stroke-width="1.3" stroke-linejoin="round" stroke-linecap="round" opacity="1.0"/>
<path d="M201.50,376.00 C201.22,377.67 200.17,381.58 199.80,386.00 C199.43,390.42 199.55,401.50 199.30,402.50 C199.05,403.50 198.77,395.42 198.30,392.00 C197.83,388.58 197.22,384.42 196.50,382.00 C195.78,379.58 195.08,378.40 194.00,377.50 C192.92,376.60 192.00,376.78 190.00,376.60 C188.00,376.42 183.33,376.43 182.00,376.40" fill="none" stroke="#2f9090" stroke-width="1.3" stroke-linejoin="round" stroke-linecap="round" opacity="1.0"/>
<path d="M176.50,376.00 C176.80,376.83 177.88,379.12 178.30,381.00 C178.72,382.88 178.68,387.47 179.00,387.30 C179.32,387.13 179.70,381.78 180.20,380.00 C180.70,378.22 181.70,377.17 182.00,376.60" fill="none" stroke="#2f9090" stroke-width="1.3" stroke-linejoin="round" stroke-linecap="round" opacity="1.0"/>
<path d="M62.20,360.75 C63.17,361.17 65.77,362.47 68.00,363.25 C70.23,364.03 72.62,364.59 75.60,365.45 C78.58,366.31 81.83,367.64 85.90,368.40 C89.97,369.16 95.15,369.41 100.00,370.00 C104.85,370.59 110.00,371.44 115.00,371.95 C120.00,372.46 124.17,372.62 130.00,373.05 C135.83,373.48 144.17,374.14 150.00,374.55 C155.83,374.96 160.47,375.27 165.00,375.50 C169.53,375.73 173.87,375.80 177.20,375.90 C180.53,376.00 182.53,376.02 185.00,376.10 C187.47,376.18 190.83,376.35 192.00,376.40" fill="none" stroke="#f040f0" stroke-width="1.3" stroke-linejoin="round" stroke-linecap="round" opacity="1.0"/>
<path d="M178.00,376.80 C175.83,376.88 169.67,376.97 165.00,377.30 C160.33,377.63 154.70,378.21 150.00,378.80 C145.30,379.39 141.23,379.95 136.80,380.85 C132.37,381.75 127.18,382.97 123.40,384.20 C119.62,385.43 116.55,386.65 114.10,388.20 C111.65,389.75 110.15,391.57 108.70,393.50 C107.25,395.43 106.28,397.20 105.40,399.80 C104.52,402.40 103.93,406.07 103.40,409.10 C102.87,412.13 102.54,417.85 102.20,418.00 C101.86,418.15 101.72,412.90 101.34,410.00 C100.97,407.10 100.54,403.35 99.95,400.57 C99.35,397.80 98.71,395.65 97.78,393.33 C96.85,391.00 95.65,388.64 94.36,386.64 C93.08,384.64 91.49,382.97 90.08,381.33 C88.66,379.68 87.50,378.22 85.90,376.76 C84.30,375.30 82.22,373.88 80.50,372.57 C78.78,371.27 77.68,370.25 75.60,368.93 C73.52,367.60 70.23,365.96 68.00,364.61 C65.77,363.27 63.17,361.48 62.20,360.86" fill="none" stroke="#f040f0" stroke-width="1.3" stroke-linejoin="round" stroke-linecap="round" opacity="1.0"/>
<path d="M179.30,376.30 C181.08,376.25 186.55,376.12 190.00,376.00 C193.45,375.88 196.33,375.80 200.00,375.60 C203.67,375.40 207.00,375.06 212.00,374.80 C217.00,374.54 226.00,374.35 230.00,374.05 C234.00,373.75 234.07,373.59 236.00,373.00 C237.93,372.41 240.04,371.92 241.55,370.50 C243.06,369.08 243.91,366.78 245.05,364.50 C246.19,362.22 247.23,359.57 248.40,356.80 C249.57,354.03 250.58,350.58 252.05,347.90 C253.52,345.22 255.67,343.10 257.20,340.70 C258.73,338.30 259.93,335.80 261.25,333.50 C262.57,331.20 263.87,328.76 265.15,326.90 C266.43,325.04 267.05,324.51 268.95,322.35 C270.85,320.19 274.27,316.66 276.55,313.95 C278.83,311.24 280.88,308.59 282.65,306.10 C284.42,303.61 285.81,301.28 287.20,299.00 C288.59,296.72 289.81,294.42 291.00,292.40 C292.19,290.38 293.49,288.13 294.35,286.85 C295.21,285.57 295.85,285.06 296.15,284.70" fill="none" stroke="#f040f0" stroke-width="1.3" stroke-linejoin="round" stroke-linecap="round" opacity="1.0"/>
<path d="M296.30,285.55 C294.67,285.61 289.85,285.79 286.50,285.90 C283.15,286.01 279.63,285.96 276.20,286.20 C272.77,286.44 269.33,286.64 265.90,287.35 C262.47,288.06 259.03,288.99 255.60,290.45 C252.17,291.91 248.07,294.22 245.30,296.10 C242.53,297.98 241.22,299.19 239.00,301.75 C236.78,304.31 234.81,307.77 232.00,311.45 C229.19,315.12 224.89,319.96 222.15,323.80 C219.41,327.64 217.75,330.53 215.55,334.50 C213.35,338.47 210.80,342.94 208.95,347.60 C207.10,352.26 205.57,357.80 204.45,362.45 C203.32,367.10 202.57,373.32 202.20,375.50" fill="none" stroke="#f040f0" stroke-width="1.3" stroke-linejoin="round" stroke-linecap="round" opacity="1.0"/>
<path d="M201.50,376.00 C201.22,377.67 200.17,381.33 199.80,386.00 C199.43,390.67 199.55,403.00 199.30,404.00 C199.05,405.00 198.77,395.67 198.30,392.00 C197.83,388.33 197.22,384.42 196.50,382.00 C195.78,379.58 195.08,378.40 194.00,377.50 C192.92,376.60 192.00,376.78 190.00,376.60 C188.00,376.42 183.33,376.43 182.00,376.40" fill="none" stroke="#f040f0" stroke-width="1.3" stroke-linejoin="round" stroke-linecap="round" opacity="1.0"/>
<path d="M176.50,376.00 C176.80,376.83 177.88,379.07 178.30,381.00 C178.72,382.93 178.68,387.77 179.00,387.60 C179.32,387.43 179.70,381.83 180.20,380.00 C180.70,378.17 181.70,377.17 182.00,376.60" fill="none" stroke="#f040f0" stroke-width="1.3" stroke-linejoin="round" stroke-linecap="round" opacity="1.0"/>
<path d="M62.20,359.12 C63.17,359.62 65.77,361.16 68.00,362.12 C70.23,363.09 72.62,363.91 75.60,364.93 C78.58,365.94 81.83,367.38 85.90,368.20 C89.97,369.02 95.15,369.25 100.00,369.85 C104.85,370.45 110.00,371.31 115.00,371.82 C120.00,372.34 124.17,372.48 130.00,372.93 C135.83,373.37 144.17,374.05 150.00,374.47 C155.83,374.90 160.47,375.26 165.00,375.50 C169.53,375.74 173.87,375.80 177.20,375.90 C180.53,376.00 182.53,376.02 185.00,376.10 C187.47,376.18 190.83,376.35 192.00,376.40" fill="none" stroke="#2828d8" stroke-width="1.3" stroke-linejoin="round" stroke-linecap="round" opacity="1.0"/>
<path d="M178.00,376.80 C175.83,376.88 169.67,377.00 165.00,377.30 C160.33,377.60 154.70,378.05 150.00,378.60 C145.30,379.15 141.23,379.73 136.80,380.62 C132.37,381.52 127.18,382.73 123.40,383.95 C119.62,385.17 116.55,386.39 114.10,387.95 C111.65,389.51 110.15,391.32 108.70,393.30 C107.25,395.28 106.28,397.17 105.40,399.80 C104.52,402.43 103.93,405.40 103.40,409.10 C102.87,412.80 102.52,421.85 102.20,422.00 C101.88,422.15 101.80,413.54 101.47,410.00 C101.14,406.46 100.78,403.58 100.22,400.79 C99.67,398.00 99.06,395.68 98.14,393.26 C97.22,390.85 95.99,388.46 94.68,386.32 C93.37,384.18 91.75,382.26 90.29,380.41 C88.82,378.57 87.53,376.81 85.90,375.23 C84.27,373.65 82.22,372.28 80.50,370.94 C78.78,369.59 77.68,368.52 75.60,367.16 C73.52,365.81 70.23,364.14 68.00,362.81 C65.77,361.48 63.17,359.78 62.20,359.18" fill="none" stroke="#2828d8" stroke-width="1.3" stroke-linejoin="round" stroke-linecap="round" opacity="1.0"/>
<path d="M179.30,376.30 C181.08,376.25 186.55,376.12 190.00,376.00 C193.45,375.88 196.33,375.80 200.00,375.60 C203.67,375.40 207.33,375.07 212.00,374.80 C216.67,374.53 224.33,374.29 228.00,373.97 C231.67,373.66 232.07,373.48 234.00,372.90 C235.93,372.32 238.10,371.90 239.57,370.50 C241.05,369.10 241.74,366.84 242.82,364.50 C243.91,362.16 244.91,359.39 246.10,356.45 C247.29,353.51 248.38,349.56 249.97,346.85 C251.57,344.14 254.04,342.51 255.65,340.20 C257.26,337.89 258.28,335.35 259.62,333.00 C260.97,330.65 262.47,327.97 263.73,326.10 C264.98,324.23 265.37,323.89 267.17,321.77 C268.98,319.66 272.32,316.15 274.58,313.42 C276.83,310.70 278.98,307.85 280.73,305.40 C282.47,302.95 283.67,300.93 285.05,298.75 C286.43,296.57 287.63,294.39 289.00,292.35 C290.37,290.31 292.11,287.84 293.27,286.52 C294.44,285.21 295.53,284.80 295.98,284.45" fill="none" stroke="#2828d8" stroke-width="1.3" stroke-linejoin="round" stroke-linecap="round" opacity="1.0"/>
<path d="M296.30,284.93 C294.67,284.86 289.85,284.56 286.50,284.55 C283.15,284.54 279.63,284.60 276.20,284.85 C272.77,285.10 269.33,285.35 265.90,286.07 C262.47,286.80 259.03,287.76 255.60,289.17 C252.17,290.59 248.15,292.60 245.30,294.55 C242.45,296.50 240.78,298.33 238.50,300.88 C236.22,303.42 234.53,306.21 231.60,309.82 C228.67,313.44 223.80,318.71 220.92,322.55 C218.05,326.39 216.52,328.95 214.32,332.85 C212.12,336.75 209.54,341.43 207.72,345.95 C205.91,350.47 204.54,355.09 203.43,359.98 C202.31,364.86 201.45,372.70 201.05,375.25" fill="none" stroke="#2828d8" stroke-width="1.3" stroke-linejoin="round" stroke-linecap="round" opacity="1.0"/>
<path d="M201.50,376.00 C201.22,377.67 200.17,377.67 199.80,386.00 C199.43,394.33 199.55,425.00 199.30,426.00 C199.05,427.00 198.77,399.33 198.30,392.00 C197.83,384.67 197.22,384.42 196.50,382.00 C195.78,379.58 195.08,378.40 194.00,377.50 C192.92,376.60 192.00,376.78 190.00,376.60 C188.00,376.42 183.33,376.43 182.00,376.40" fill="none" stroke="#2828d8" stroke-width="1.3" stroke-linejoin="round" stroke-linecap="round" opacity="1.0"/>
<path d="M176.50,376.00 C176.80,376.83 177.88,379.02 178.30,381.00 C178.72,382.98 178.68,388.07 179.00,387.90 C179.32,387.73 179.70,381.88 180.20,380.00 C180.70,378.12 181.70,377.17 182.00,376.60" fill="none" stroke="#2828d8" stroke-width="1.3" stroke-linejoin="round" stroke-linecap="round" opacity="1.0"/>
<path d="M62.20,357.50 C63.17,358.08 65.77,359.85 68.00,361.00 C70.23,362.15 72.62,363.23 75.60,364.40 C78.58,365.57 81.83,367.12 85.90,368.00 C89.97,368.88 95.15,369.08 100.00,369.70 C104.85,370.32 110.00,371.18 115.00,371.70 C120.00,372.22 124.17,372.35 130.00,372.80 C135.83,373.25 144.17,373.95 150.00,374.40 C155.83,374.85 160.47,375.25 165.00,375.50 C169.53,375.75 173.87,375.80 177.20,375.90 C180.53,376.00 182.53,376.02 185.00,376.10 C187.47,376.18 190.83,376.35 192.00,376.40" fill="none" stroke="#3a3a9a" stroke-width="1.3" stroke-linejoin="round" stroke-linecap="round" opacity="1.0"/>
<path d="M178.00,376.80 C175.83,376.88 169.67,377.03 165.00,377.30 C160.33,377.57 154.70,377.88 150.00,378.40 C145.30,378.92 141.23,379.52 136.80,380.40 C132.37,381.28 127.18,382.48 123.40,383.70 C119.62,384.92 116.55,386.13 114.10,387.70 C111.65,389.27 110.15,391.08 108.70,393.10 C107.25,395.12 106.28,397.13 105.40,399.80 C104.52,402.47 103.93,406.07 103.40,409.10 C102.87,412.13 102.50,417.85 102.20,418.00 C101.90,418.15 101.88,412.83 101.60,410.00 C101.32,407.17 101.02,403.80 100.50,401.00 C99.98,398.20 99.42,395.70 98.50,393.20 C97.58,390.70 96.33,388.28 95.00,386.00 C93.67,383.72 92.02,381.55 90.50,379.50 C88.98,377.45 87.57,375.40 85.90,373.70 C84.23,372.00 82.22,370.68 80.50,369.30 C78.78,367.92 77.68,366.78 75.60,365.40 C73.52,364.02 70.23,362.32 68.00,361.00 C65.77,359.68 63.17,358.08 62.20,357.50" fill="none" stroke="#3a3a9a" stroke-width="1.3" stroke-linejoin="round" stroke-linecap="round" opacity="1.0"/>
<path d="M179.30,376.30 C181.08,376.25 186.55,376.12 190.00,376.00 C193.45,375.88 196.33,375.80 200.00,375.60 C203.67,375.40 207.67,375.08 212.00,374.80 C216.33,374.52 222.67,374.23 226.00,373.90 C229.33,373.57 230.07,373.37 232.00,372.80 C233.93,372.23 236.17,371.88 237.60,370.50 C239.03,369.12 239.57,366.90 240.60,364.50 C241.63,362.10 242.58,359.22 243.80,356.10 C245.02,352.98 246.18,348.53 247.90,345.80 C249.62,343.07 252.42,341.92 254.10,339.70 C255.78,337.48 256.63,334.90 258.00,332.50 C259.37,330.10 261.07,327.18 262.30,325.30 C263.53,323.42 263.68,323.27 265.40,321.20 C267.12,319.13 270.37,315.65 272.60,312.90 C274.83,310.15 277.08,307.10 278.80,304.70 C280.52,302.30 281.53,300.57 282.90,298.50 C284.27,296.43 285.45,294.35 287.00,292.30 C288.55,290.25 290.73,287.55 292.20,286.20 C293.67,284.85 295.20,284.53 295.80,284.20" fill="none" stroke="#3a3a9a" stroke-width="1.3" stroke-linejoin="round" stroke-linecap="round" opacity="1.0"/>
<path d="M296.30,284.30 C294.67,284.12 289.85,283.33 286.50,283.20 C283.15,283.07 279.63,283.23 276.20,283.50 C272.77,283.77 269.33,284.07 265.90,284.80 C262.47,285.53 259.03,286.53 255.60,287.90 C252.17,289.27 248.23,290.98 245.30,293.00 C242.37,295.02 240.35,297.47 238.00,300.00 C235.65,302.53 234.25,304.65 231.20,308.20 C228.15,311.75 222.72,317.47 219.70,321.30 C216.68,325.13 215.30,327.37 213.10,331.20 C210.90,335.03 208.28,339.92 206.50,344.30 C204.72,348.68 203.50,352.38 202.40,357.50 C201.30,362.62 200.32,372.08 199.90,375.00" fill="none" stroke="#3a3a9a" stroke-width="1.3" stroke-linejoin="round" stroke-linecap="round" opacity="1.0"/>
<path d="M201.50,376.00 C201.22,377.67 200.17,380.83 199.80,386.00 C199.43,391.17 199.55,406.00 199.30,407.00 C199.05,408.00 198.77,396.17 198.30,392.00 C197.83,387.83 197.22,384.42 196.50,382.00 C195.78,379.58 195.08,378.40 194.00,377.50 C192.92,376.60 192.00,376.78 190.00,376.60 C188.00,376.42 183.33,376.43 182.00,376.40" fill="none" stroke="#3a3a9a" stroke-width="1.3" stroke-linejoin="round" stroke-linecap="round" opacity="1.0"/>
<path d="M176.50,376.00 C176.80,376.83 177.88,378.97 178.30,381.00 C178.72,383.03 178.68,388.37 179.00,388.20 C179.32,388.03 179.70,381.93 180.20,380.00 C180.70,378.07 181.70,377.17 182.00,376.60" fill="none" stroke="#3a3a9a" stroke-width="1.3" stroke-linejoin="round" stroke-linecap="round" opacity="1.0"/>
<path d="M75.50,363.50 C77.92,363.75 84.08,364.42 90.00,365.00 C95.92,365.58 104.33,366.30 111.00,367.00 C117.67,367.70 123.50,368.48 130.00,369.20 C136.50,369.92 144.17,370.68 150.00,371.30 C155.83,371.92 160.47,372.40 165.00,372.90 C169.53,373.40 175.17,374.07 177.20,374.30" fill="none" stroke="#333333" stroke-width="1.3" stroke-linejoin="round" stroke-linecap="round" opacity="1.0"/>
<path d="M62.50,359.50 C63.42,360.00 65.83,361.83 68.00,362.50 C70.17,363.17 74.25,363.33 75.50,363.50" fill="none" stroke="#333333" stroke-width="1.3" stroke-linejoin="round" stroke-linecap="round" opacity="1.0"/>
<path d="M179.60,374.40 L179.60,421.60" fill="none" stroke="#333333" stroke-width="1.3" stroke-linejoin="round" stroke-linecap="round" opacity="1.0"/>
<path d="M180.00,375.60 C182.50,375.55 190.83,375.42 195.00,375.30 C199.17,375.18 202.17,375.10 205.00,374.90 C207.83,374.70 209.65,374.48 212.00,374.10 C214.35,373.72 217.02,373.12 219.10,372.60 C221.18,372.08 222.78,371.68 224.50,371.00 C226.22,370.32 228.02,369.58 229.40,368.50 C230.78,367.42 231.77,365.88 232.80,364.50 C233.83,363.12 234.12,362.62 235.60,360.20 C237.08,357.78 240.05,352.53 241.70,350.00 C243.35,347.47 244.28,346.72 245.50,345.00 C246.72,343.28 247.83,341.70 249.00,339.70 C250.17,337.70 251.48,335.07 252.50,333.00 C253.52,330.93 254.35,329.30 255.10,327.30 C255.85,325.30 256.32,322.88 257.00,321.00 C257.68,319.12 258.28,317.58 259.20,316.00 C260.12,314.42 261.38,312.92 262.50,311.50 C263.62,310.08 264.82,309.55 265.90,307.50 C266.98,305.45 266.77,302.13 269.00,299.20 C271.23,296.27 276.55,292.65 279.30,289.90 C282.05,287.15 284.13,284.83 285.50,282.70 C286.87,280.57 286.30,278.65 287.50,277.10 C288.70,275.55 291.32,274.87 292.70,273.40 C294.08,271.93 295.28,269.15 295.80,268.30" fill="none" stroke="#333333" stroke-width="1.3" stroke-linejoin="round" stroke-linecap="round" opacity="1.0"/>
<path d="M295.80,268.30 C294.25,268.10 289.77,267.02 286.50,267.10 C283.23,267.18 279.63,267.92 276.20,268.80 C272.77,269.68 269.33,270.77 265.90,272.40 C262.47,274.03 258.00,276.72 255.60,278.60 C253.20,280.48 253.22,281.63 251.50,283.70 C249.78,285.77 247.20,288.93 245.30,291.00 C243.40,293.07 241.98,293.60 240.10,296.10 C238.22,298.60 235.77,302.35 234.00,306.00 C232.23,309.65 231.33,313.53 229.50,318.00 C227.67,322.47 225.18,327.58 223.00,332.80 C220.82,338.02 218.33,344.10 216.40,349.30 C214.47,354.50 212.58,359.72 211.40,364.00 C210.22,368.28 209.95,371.33 209.30,375.00 C208.65,378.67 208.05,382.88 207.50,386.00 C206.95,389.12 206.42,393.20 206.00,393.70 C205.58,394.20 205.37,391.28 205.00,389.00 C204.63,386.72 204.47,382.08 203.80,380.00 C203.13,377.92 202.47,377.17 201.00,376.50 C199.53,375.83 197.67,376.15 195.00,376.00 C192.33,375.85 186.67,375.67 185.00,375.60" fill="none" stroke="#333333" stroke-width="1.3" stroke-linejoin="round" stroke-linecap="round" opacity="1.0"/>
<path d="M427.40,310.80 C428.22,310.87 430.38,311.27 432.30,311.20 C434.22,311.13 436.95,310.50 438.90,310.40 C440.85,310.30 442.22,310.53 444.00,310.60 C445.78,310.67 448.43,311.32 449.60,310.80 C450.77,310.28 450.70,308.25 451.00,307.50 C451.30,306.75 451.20,305.97 451.40,306.30 C451.60,306.63 451.95,308.57 452.20,309.50 C452.45,310.43 451.60,311.35 452.90,311.90 C454.20,312.45 457.82,312.48 460.00,312.80 C462.18,313.12 462.83,313.28 466.00,313.80 C469.17,314.32 474.17,315.08 479.00,315.90 C483.83,316.72 490.67,317.75 495.00,318.70 C499.33,319.65 501.28,320.22 505.00,321.60 C508.72,322.98 513.63,325.10 517.30,327.00 C520.97,328.90 524.05,330.67 527.00,333.00 C529.95,335.33 532.83,338.17 535.00,341.00 C537.17,343.83 538.67,346.50 540.00,350.00 C541.33,353.50 542.32,354.50 543.00,362.00 C543.68,369.50 543.92,389.50 544.10,395.00" fill="none" stroke="#e03c3c" stroke-width="1.3" stroke-linejoin="round" stroke-linecap="round" opacity="1.0"/>
<path d="M427.40,311.40 C430.28,311.92 440.10,313.58 444.70,314.50 C449.30,315.42 450.90,316.03 455.00,316.90 C459.10,317.77 465.30,318.85 469.30,319.70 C473.30,320.55 474.72,320.78 479.00,322.00 C483.28,323.22 490.67,325.77 495.00,327.00 C499.33,328.23 501.28,328.23 505.00,329.40 C508.72,330.57 513.63,332.32 517.30,334.00 C520.97,335.68 524.05,337.42 527.00,339.50 C529.95,341.58 532.83,344.08 535.00,346.50 C537.17,348.92 538.67,350.75 540.00,354.00 C541.33,357.25 542.30,358.33 543.00,366.00 C543.70,373.67 544.00,394.33 544.20,400.00" fill="none" stroke="#e03c3c" stroke-width="1.3" stroke-linejoin="round" stroke-linecap="round" opacity="1.0"/>
<path d="M544.60,400.00 C544.83,395.00 545.43,378.17 546.00,370.00 C546.57,361.83 547.00,355.50 548.00,351.00 C549.00,346.50 549.22,345.37 552.00,343.00 C554.78,340.63 560.03,339.07 564.70,336.80 C569.37,334.53 574.25,332.60 580.00,329.40 C585.75,326.20 593.57,320.78 599.20,317.60 C604.83,314.42 608.93,312.73 613.80,310.30 C618.67,307.87 624.75,305.20 628.40,303.00 C632.05,300.80 633.27,298.32 635.70,297.10 C638.13,295.88 640.82,296.18 643.00,295.70 C645.18,295.22 647.33,295.42 648.80,294.20 C650.27,292.98 650.33,289.62 651.80,288.40 C653.27,287.18 655.90,287.63 657.60,286.90 C659.30,286.17 661.27,284.48 662.00,284.00" fill="none" stroke="#e03c3c" stroke-width="1.3" stroke-linejoin="round" stroke-linecap="round" opacity="1.0"/>
<path d="M662.00,284.90 C660.05,285.35 654.68,286.67 650.30,287.60 C645.92,288.53 641.78,289.03 635.70,290.50 C629.62,291.97 621.10,293.60 613.80,296.40 C606.50,299.20 597.53,304.28 591.90,307.30 C586.27,310.32 584.53,311.63 580.00,314.50 C575.47,317.37 568.90,321.00 564.70,324.50 C560.50,328.00 557.25,332.08 554.80,335.50 C552.35,338.92 551.30,340.92 550.00,345.00 C548.70,349.08 547.80,353.33 547.00,360.00 C546.20,366.67 545.50,380.83 545.20,385.00" fill="none" stroke="#e03c3c" stroke-width="1.3" stroke-linejoin="round" stroke-linecap="round" opacity="1.0"/>
<path d="M427.00,297.30 C427.88,297.15 430.73,296.62 432.30,296.40 C433.87,296.18 435.23,296.82 436.40,296.00 C437.57,295.18 438.68,291.02 439.30,291.50 C439.92,291.98 439.75,296.85 440.10,298.90 C440.45,300.95 440.63,302.90 441.40,303.80 C442.17,304.70 443.60,304.15 444.70,304.30 C445.80,304.45 446.90,304.37 448.00,304.70 C449.10,305.03 448.30,305.50 451.30,306.30 C454.30,307.10 461.38,308.47 466.00,309.50 C470.62,310.53 474.17,311.33 479.00,312.50 C483.83,313.67 490.67,315.50 495.00,316.50 C499.33,317.50 501.28,317.50 505.00,318.50 C508.72,319.50 513.18,320.42 517.30,322.50 C521.42,324.58 526.40,328.00 529.70,331.00 C533.00,334.00 535.22,337.33 537.10,340.50 C538.98,343.67 539.93,345.92 541.00,350.00 C542.07,354.08 542.97,358.33 543.50,365.00 C544.03,371.67 544.08,385.83 544.20,390.00" fill="none" stroke="#3c3c3c" stroke-width="1.3" stroke-linejoin="round" stroke-linecap="round" opacity="1.0"/>
<path d="M433.20,298.50 C434.28,298.70 437.57,299.03 439.70,299.70 C441.83,300.37 444.95,302.03 446.00,302.50" fill="none" stroke="#3c3c3c" stroke-width="1.3" stroke-linejoin="round" stroke-linecap="round" opacity="1.0"/>
<path d="M544.60,390.00 C544.75,387.50 544.93,380.83 545.50,375.00 C546.07,369.17 546.92,360.00 548.00,355.00 C549.08,350.00 550.67,347.50 552.00,345.00 C553.33,342.50 553.88,342.40 556.00,340.00 C558.12,337.60 560.70,333.40 564.70,330.60 C568.70,327.80 574.25,325.87 580.00,323.20 C585.75,320.53 593.57,316.88 599.20,314.60 C604.83,312.32 608.93,310.95 613.80,309.50 C618.67,308.05 623.53,307.23 628.40,305.90 C633.27,304.57 639.47,302.72 643.00,301.50 C646.53,300.28 648.27,300.30 649.60,298.60 C650.93,296.90 649.93,292.50 651.00,291.30 C652.07,290.10 654.17,291.40 656.00,291.40 C657.83,291.40 661.00,291.32 662.00,291.30" fill="none" stroke="#3c3c3c" stroke-width="1.3" stroke-linejoin="round" stroke-linecap="round" opacity="1.0"/>
<path d="M662.00,291.30 C660.05,291.53 653.47,292.33 650.30,292.70 C647.13,293.07 646.65,293.13 643.00,293.50 C639.35,293.87 633.27,294.18 628.40,294.90 C623.53,295.62 618.67,296.95 613.80,297.80 C608.93,298.65 603.17,298.72 599.20,300.00 C595.23,301.28 593.20,303.20 590.00,305.50 C586.80,307.80 584.22,310.72 580.00,313.80 C575.78,316.88 568.90,320.47 564.70,324.00 C560.50,327.53 557.25,331.67 554.80,335.00 C552.35,338.33 551.30,339.83 550.00,344.00 C548.70,348.17 547.80,354.00 547.00,360.00 C546.20,366.00 545.50,376.67 545.20,380.00" fill="none" stroke="#3c3c3c" stroke-width="1.3" stroke-linejoin="round" stroke-linecap="round" opacity="1.0"/>
<path d="M427.40,289.90 L436.00,289.00 L444.70,288.40 L445.30,292.50 L446.30,298.50 L449.00,300.50" fill="none" stroke="#2222c4" stroke-width="1.3" stroke-linejoin="round" stroke-linecap="round" opacity="1.0"/>
<path d="M427.40,290.00 C429.50,291.17 435.40,294.68 440.00,297.00 C444.60,299.32 450.67,302.15 455.00,303.90 C459.33,305.65 462.00,306.40 466.00,307.50 C470.00,308.60 474.17,309.48 479.00,310.50 C483.83,311.52 490.67,312.60 495.00,313.60 C499.33,314.60 501.28,315.27 505.00,316.50 C508.72,317.73 513.18,318.83 517.30,321.00 C521.42,323.17 526.40,326.42 529.70,329.50 C533.00,332.58 535.22,336.25 537.10,339.50 C538.98,342.75 540.02,345.58 541.00,349.00 C541.98,352.42 542.47,351.50 543.00,360.00 C543.53,368.50 544.00,393.33 544.20,400.00" fill="none" stroke="#2222c4" stroke-width="1.3" stroke-linejoin="round" stroke-linecap="round" opacity="1.0"/>
<path d="M427.40,291.50 C429.50,292.83 435.40,296.75 440.00,299.50 C444.60,302.25 450.67,305.83 455.00,308.00 C459.33,310.17 462.00,311.08 466.00,312.50 C470.00,313.92 474.17,315.00 479.00,316.50 C483.83,318.00 490.67,319.97 495.00,321.50 C499.33,323.03 500.25,323.35 505.00,325.70 C509.75,328.05 518.83,332.72 523.50,335.60 C528.17,338.48 530.42,340.27 533.00,343.00 C535.58,345.73 537.42,348.83 539.00,352.00 C540.58,355.17 541.67,356.50 542.50,362.00 C543.33,367.50 543.70,371.00 544.00,385.00 C544.30,399.00 544.25,435.83 544.30,446.00" fill="none" stroke="#2222c4" stroke-width="1.3" stroke-linejoin="round" stroke-linecap="round" opacity="1.0"/>
<path d="M544.60,430.00 C544.75,421.67 545.13,392.50 545.50,380.00 C545.87,367.50 546.22,360.67 546.80,355.00 C547.38,349.33 548.30,348.50 549.00,346.00 C549.70,343.50 550.03,342.17 551.00,340.00 C551.97,337.83 552.52,336.00 554.80,333.00 C557.08,330.00 560.50,325.50 564.70,322.00 C568.90,318.50 575.47,314.93 580.00,312.00 C584.53,309.07 587.73,306.98 591.90,304.40 C596.07,301.82 601.35,298.75 605.00,296.50 C608.65,294.25 611.47,293.15 613.80,290.90 C616.13,288.65 617.25,285.00 619.00,283.00 C620.75,281.00 622.65,279.43 624.30,278.90 C625.95,278.37 627.37,278.73 628.90,279.80 C630.43,280.87 631.97,284.15 633.50,285.30 C635.03,286.45 635.02,286.77 638.10,286.70 C641.18,286.63 648.13,285.35 652.00,284.90 C655.87,284.45 659.75,284.15 661.30,284.00" fill="none" stroke="#2222c4" stroke-width="1.3" stroke-linejoin="round" stroke-linecap="round" opacity="1.0"/>
<path d="M661.30,285.50 C657.42,286.17 644.72,288.42 638.00,289.50 C631.28,290.58 625.03,291.10 621.00,292.00 C616.97,292.90 618.65,292.47 613.80,294.90 C608.95,297.33 597.53,303.50 591.90,306.60 C586.27,309.70 584.53,310.68 580.00,313.50 C575.47,316.32 568.90,320.00 564.70,323.50 C560.50,327.00 557.08,331.58 554.80,334.50 C552.52,337.42 552.13,338.08 551.00,341.00 C549.87,343.92 548.92,347.17 548.00,352.00 C547.08,356.83 545.92,367.00 545.50,370.00" fill="none" stroke="#2222c4" stroke-width="1.3" stroke-linejoin="round" stroke-linecap="round" opacity="1.0"/>
<path d="M427.20,268.90 C429.33,269.62 434.53,271.50 440.00,273.20 C445.47,274.90 453.50,277.22 460.00,279.10 C466.50,280.98 474.00,283.13 479.00,284.50 C484.00,285.87 485.67,286.10 490.00,287.30 C494.33,288.50 500.45,289.92 505.00,291.70 C509.55,293.48 514.13,296.20 517.30,298.00 C520.47,299.80 521.93,300.77 524.00,302.50 C526.07,304.23 528.03,306.65 529.70,308.40 C531.37,310.15 532.77,311.57 534.00,313.00 C535.23,314.43 535.97,314.68 537.10,317.00 C538.23,319.32 539.87,323.07 540.80,326.90 C541.73,330.73 542.20,334.48 542.70,340.00 C543.20,345.52 543.53,350.00 543.80,360.00 C544.07,370.00 544.22,393.33 544.30,400.00" fill="none" stroke="#2a9090" stroke-width="1.3" stroke-linejoin="round" stroke-linecap="round" opacity="1.0"/>
<path d="M544.60,400.00 C544.68,393.33 544.93,370.73 545.10,360.00 C545.27,349.27 545.22,341.32 545.60,335.60 C545.98,329.88 546.68,328.80 547.40,325.70 C548.12,322.60 548.63,320.03 549.90,317.00 C551.17,313.97 552.78,310.40 555.00,307.50 C557.22,304.60 560.45,301.87 563.20,299.60 C565.95,297.33 568.75,295.68 571.50,293.90 C574.25,292.12 576.97,290.35 579.70,288.90 C582.43,287.45 585.35,286.22 587.90,285.20 C590.45,284.18 592.45,283.72 595.00,282.80 C597.55,281.88 600.47,280.77 603.20,279.70 C605.93,278.63 608.65,277.50 611.40,276.40 C614.15,275.30 616.95,274.20 619.70,273.10 C622.45,272.00 625.17,270.83 627.90,269.80 C630.63,268.77 634.12,267.58 636.10,266.90 C638.08,266.22 639.05,266.87 639.80,265.70 C640.55,264.53 639.73,261.00 640.60,259.90 C641.47,258.80 643.10,259.33 645.00,259.10 C646.90,258.87 649.28,258.75 652.00,258.50 C654.72,258.25 659.75,257.75 661.30,257.60" fill="none" stroke="#2a9090" stroke-width="1.3" stroke-linejoin="round" stroke-linecap="round" opacity="1.0"/>
<path d="M661.30,257.60 C659.75,258.30 654.72,260.73 652.00,261.80 C649.28,262.87 647.03,263.35 645.00,264.00 C642.97,264.65 640.67,265.42 639.80,265.70" fill="none" stroke="#2a9090" stroke-width="1.3" stroke-linejoin="round" stroke-linecap="round" opacity="1.0"/>
<path d="M427.20,271.70 C429.33,272.38 434.53,274.25 440.00,275.80 C445.47,277.35 453.50,279.25 460.00,281.00 C466.50,282.75 474.00,284.90 479.00,286.30 C484.00,287.70 485.67,288.18 490.00,289.40 C494.33,290.62 500.00,291.72 505.00,293.60 C510.00,295.48 515.88,297.93 520.00,300.70 C524.12,303.47 527.20,307.32 529.70,310.20 C532.20,313.08 533.25,315.20 535.00,318.00 C536.75,320.80 538.95,323.33 540.20,327.00 C541.45,330.67 541.90,334.17 542.50,340.00 C543.10,345.83 543.50,348.67 543.80,362.00 C544.10,375.33 544.22,410.33 544.30,420.00" fill="none" stroke="#e020e0" stroke-width="1.3" stroke-linejoin="round" stroke-linecap="round" opacity="1.0"/>
<path d="M544.50,420.00 C544.62,410.33 544.97,375.33 545.20,362.00 C545.43,348.67 545.50,345.67 545.90,340.00 C546.30,334.33 546.92,331.33 547.60,328.00 C548.28,324.67 548.80,322.83 550.00,320.00 C551.20,317.17 552.60,313.85 554.80,311.00 C557.00,308.15 560.42,305.20 563.20,302.90 C565.98,300.60 568.75,298.92 571.50,297.20 C574.25,295.48 576.97,293.98 579.70,292.60 C582.43,291.22 585.35,290.03 587.90,288.90 C590.45,287.77 591.08,287.48 595.00,285.80 C598.92,284.12 605.92,281.05 611.40,278.80 C616.88,276.55 622.30,274.35 627.90,272.30 C633.50,270.25 639.43,268.50 645.00,266.50 C650.57,264.50 658.58,261.33 661.30,260.30" fill="none" stroke="#e020e0" stroke-width="1.3" stroke-linejoin="round" stroke-linecap="round" opacity="1.0"/>
<path d="M427.20,273.65 C429.33,274.38 434.53,276.38 440.00,277.99 C445.47,279.59 453.50,281.53 460.00,283.30 C466.50,285.07 474.00,287.20 479.00,288.60 C484.00,290.00 485.67,290.48 490.00,291.70 C494.33,292.92 500.00,294.02 505.00,295.90 C510.00,297.78 515.88,300.23 520.00,303.00 C524.12,305.77 527.20,309.62 529.70,312.50 C532.20,315.38 533.25,317.50 535.00,320.30 C536.75,323.10 538.95,325.83 540.20,329.30 C541.45,332.77 541.90,335.70 542.50,341.15 C543.10,346.60 543.50,348.86 543.80,362.00 C544.10,375.14 544.22,410.33 544.30,420.00" fill="none" stroke="#e020e0" stroke-width="1.3" stroke-linejoin="round" stroke-linecap="round" opacity="1.0"/>
<path d="M544.50,420.00 C544.62,410.33 544.97,375.14 545.20,362.00 C545.43,348.86 545.50,346.43 545.90,341.15 C546.30,335.87 546.92,333.44 547.60,330.30 C548.28,327.16 548.80,325.13 550.00,322.30 C551.20,319.47 552.60,316.15 554.80,313.30 C557.00,310.45 560.42,307.50 563.20,305.20 C565.98,302.90 568.75,301.22 571.50,299.50 C574.25,297.78 576.97,296.28 579.70,294.90 C582.43,293.52 585.35,292.33 587.90,291.20 C590.45,290.07 591.08,289.78 595.00,288.10 C598.92,286.42 605.92,283.35 611.40,281.10 C616.88,278.85 622.30,276.69 627.90,274.60 C633.50,272.51 639.43,270.80 645.00,268.57 C650.57,266.34 658.58,262.45 661.30,261.22" fill="none" stroke="#e020e0" stroke-width="1.3" stroke-linejoin="round" stroke-linecap="round" opacity="1.0"/>
<rect x="40.70" y="7.50" width="274.70" height="200.90" fill="none" stroke="#1a1a1a" stroke-width="1.3"/>
<path d="M64.50,208.40V212.40M92.50,208.40V212.40M121.50,208.40V212.40M149.50,208.40V212.40M178.50,208.40V212.40M206.50,208.40V212.40M235.50,208.40V212.40M263.50,208.40V212.40M292.50,208.40V212.40M49.50,208.40V210.60M64.50,208.40V210.60M78.50,208.40V210.60M92.50,208.40V210.60M106.50,208.40V210.60M121.50,208.40V210.60M135.50,208.40V210.60M149.50,208.40V210.60M163.50,208.40V210.60M178.50,208.40V210.60M192.50,208.40V210.60M206.50,208.40V210.60M220.50,208.40V210.60M235.50,208.40V210.60M249.50,208.40V210.60M263.50,208.40V210.60M277.50,208.40V210.60M292.50,208.40V210.60M306.50,208.40V210.60M40.70,208.50H36.70M40.70,202.50H38.50M40.70,198.50H38.50M40.70,196.50H38.50M40.70,194.50H38.50M40.70,192.50H38.50M40.70,191.50H38.50M40.70,190.50H38.50M40.70,189.50H38.50M40.70,188.50H36.70M40.70,182.50H38.50M40.70,178.50H38.50M40.70,176.50H38.50M40.70,174.50H38.50M40.70,172.50H38.50M40.70,171.50H38.50M40.70,170.50H38.50M40.70,169.50H38.50M40.70,168.50H36.70M40.70,162.50H38.50M40.70,158.50H38.50M40.70,156.50H38.50M40.70,154.50H38.50M40.70,152.50H38.50M40.70,151.50H38.50M40.70,150.50H38.50M40.70,149.50H38.50M40.70,148.50H36.70M40.70,142.50H38.50M40.70,138.50H38.50M40.70,136.50H38.50M40.70,134.50H38.50M40.70,132.50H38.50M40.70,131.50H38.50M40.70,129.50H38.50M40.70,128.50H38.50M40.70,128.50H36.70M40.70,121.50H38.50M40.70,118.50H38.50M40.70,115.50H38.50M40.70,113.50H38.50M40.70,112.50H38.50M40.70,111.50H38.50M40.70,109.50H38.50M40.70,108.50H38.50M40.70,107.50H36.70M40.70,101.50H38.50M40.70,98.50H38.50M40.70,95.50H38.50M40.70,93.50H38.50M40.70,92.50H38.50M40.70,90.50H38.50M40.70,89.50H38.50M40.70,88.50H38.50M40.70,87.50H36.70M40.70,81.50H38.50M40.70,78.50H38.50M40.70,75.50H38.50M40.70,73.50H38.50M40.70,72.50H38.50M40.70,70.50H38.50M40.70,69.50H38.50M40.70,68.50H38.50M40.70,67.50H36.70M40.70,61.50H38.50M40.70,58.50H38.50M40.70,55.50H38.50M40.70,53.50H38.50M40.70,52.50H38.50M40.70,50.50H38.50M40.70,49.50H38.50M40.70,48.50H38.50M40.70,47.50H36.70M40.70,41.50H38.50M40.70,38.50H38.50M40.70,35.50H38.50M40.70,33.50H38.50M40.70,32.50H38.50M40.70,30.50H38.50M40.70,29.50H38.50M40.70,28.50H38.50M40.70,27.50H36.70M40.70,21.50H38.50M40.70,18.50H38.50M40.70,15.50H38.50M40.70,13.50H38.50M40.70,11.50H38.50M40.70,10.50H38.50M40.70,9.50H38.50M40.70,8.50H38.50M40.70,7.50H36.70" stroke="#1a1a1a" stroke-width="1" fill="none"/>
<rect x="407.60" y="7.60" width="273.80" height="200.80" fill="none" stroke="#1a1a1a" stroke-width="1.3"/>
<path d="M407.50,208.40V212.40M453.50,208.40V212.40M498.50,208.40V212.40M544.50,208.40V212.40M590.50,208.40V212.40M635.50,208.40V212.40M681.50,208.40V212.40M430.50,208.40V210.60M453.50,208.40V210.60M476.50,208.40V210.60M498.50,208.40V210.60M521.50,208.40V210.60M544.50,208.40V210.60M567.50,208.40V210.60M590.50,208.40V210.60M612.50,208.40V210.60M635.50,208.40V210.60M658.50,208.40V210.60M407.60,208.50H403.60M407.60,203.50H405.40M407.60,200.50H405.40M407.60,198.50H405.40M407.60,196.50H405.40M407.60,195.50H405.40M407.60,194.50H405.40M407.60,193.50H405.40M407.60,192.50H405.40M407.60,191.50H403.60M407.60,186.50H405.40M407.60,183.50H405.40M407.60,181.50H405.40M407.60,179.50H405.40M407.60,178.50H405.40M407.60,177.50H405.40M407.60,176.50H405.40M407.60,175.50H405.40M407.60,174.50H403.60M407.60,169.50H405.40M407.60,166.50H405.40M407.60,164.50H405.40M407.60,163.50H405.40M407.60,161.50H405.40M407.60,160.50H405.40M407.60,159.50H405.40M407.60,158.50H405.40M407.60,158.50H403.60M407.60,153.50H405.40M407.60,150.50H405.40M407.60,148.50H405.40M407.60,146.50H405.40M407.60,145.50H405.40M407.60,144.50H405.40M407.60,143.50H405.40M407.60,142.50H405.40M407.60,141.50H403.60M407.60,136.50H405.40M407.60,133.50H405.40M407.60,131.50H405.40M407.60,129.50H405.40M407.60,128.50H405.40M407.60,127.50H405.40M407.60,126.50H405.40M407.60,125.50H405.40M407.60,124.50H403.60M407.60,119.50H405.40M407.60,116.50H405.40M407.60,114.50H405.40M407.60,113.50H405.40M407.60,111.50H405.40M407.60,110.50H405.40M407.60,109.50H405.40M407.60,108.50H405.40M407.60,108.50H403.60M407.60,102.50H405.40M407.60,100.50H405.40M407.60,97.50H405.40M407.60,96.50H405.40M407.60,94.50H405.40M407.60,93.50H405.40M407.60,92.50H405.40M407.60,92.50H405.40M407.60,91.50H403.60M407.60,86.50H405.40M407.60,83.50H405.40M407.60,81.50H405.40M407.60,79.50H405.40M407.60,78.50H405.40M407.60,77.50H405.40M407.60,76.50H405.40M407.60,75.50H405.40M407.60,74.50H403.60M407.60,69.50H405.40M407.60,66.50H405.40M407.60,64.50H405.40M407.60,62.50H405.40M407.60,61.50H405.40M407.60,60.50H405.40M407.60,59.50H405.40M407.60,58.50H405.40M407.60,57.50H403.60M407.60,52.50H405.40M407.60,49.50H405.40M407.60,47.50H405.40M407.60,46.50H405.40M407.60,44.50H405.40M407.60,43.50H405.40M407.60,42.50H405.40M407.60,41.50H405.40M407.60,41.50H403.60M407.60,36.50H405.40M407.60,33.50H405.40M407.60,30.50H405.40M407.60,29.50H405.40M407.60,28.50H405.40M407.60,26.50H405.40M407.60,25.50H405.40M407.60,25.50H405.40M407.60,24.50H403.60M407.60,19.50H405.40M407.60,16.50H405.40M407.60,14.50H405.40M407.60,12.50H405.40M407.60,11.50H405.40M407.60,10.50H405.40M407.60,9.50H405.40M407.60,8.50H405.40M407.60,7.50H403.60" stroke="#1a1a1a" stroke-width="1" fill="none"/>
<rect x="42.20" y="253.10" width="274.10" height="200.50" fill="none" stroke="#1a1a1a" stroke-width="1.3"/>
<path d="M62.50,453.60V457.60M101.50,453.60V457.60M140.50,453.60V457.60M179.50,453.60V457.60M218.50,453.60V457.60M257.50,453.60V457.60M296.50,453.60V457.60M62.50,453.60V455.80M81.50,453.60V455.80M101.50,453.60V455.80M120.50,453.60V455.80M140.50,453.60V455.80M159.50,453.60V455.80M179.50,453.60V455.80M198.50,453.60V455.80M218.50,453.60V455.80M237.50,453.60V455.80M257.50,453.60V455.80M276.50,453.60V455.80M296.50,453.60V455.80M315.50,453.60V455.80M42.20,453.50H38.20M42.20,446.50H40.00M42.20,442.50H40.00M42.20,440.50H40.00M42.20,438.50H40.00M42.20,436.50H40.00M42.20,434.50H40.00M42.20,433.50H40.00M42.20,432.50H40.00M42.20,431.50H38.20M42.20,424.50H40.00M42.20,420.50H40.00M42.20,417.50H40.00M42.20,415.50H40.00M42.20,413.50H40.00M42.20,412.50H40.00M42.20,411.50H40.00M42.20,410.50H40.00M42.20,409.50H38.20M42.20,402.50H40.00M42.20,398.50H40.00M42.20,395.50H40.00M42.20,393.50H40.00M42.20,391.50H40.00M42.20,390.50H40.00M42.20,388.50H40.00M42.20,387.50H40.00M42.20,386.50H38.20M42.20,380.50H40.00M42.20,376.50H40.00M42.20,373.50H40.00M42.20,371.50H40.00M42.20,369.50H40.00M42.20,367.50H40.00M42.20,366.50H40.00M42.20,365.50H40.00M42.20,364.50H38.20M42.20,357.50H40.00M42.20,353.50H40.00M42.20,351.50H40.00M42.20,348.50H40.00M42.20,347.50H40.00M42.20,345.50H40.00M42.20,344.50H40.00M42.20,343.50H40.00M42.20,342.50H38.20M42.20,335.50H40.00M42.20,331.50H40.00M42.20,328.50H40.00M42.20,326.50H40.00M42.20,324.50H40.00M42.20,323.50H40.00M42.20,322.50H40.00M42.20,320.50H40.00M42.20,319.50H38.20M42.20,313.50H40.00M42.20,309.50H40.00M42.20,306.50H40.00M42.20,304.50H40.00M42.20,302.50H40.00M42.20,301.50H40.00M42.20,299.50H40.00M42.20,298.50H40.00M42.20,297.50H38.20M42.20,290.50H40.00M42.20,287.50H40.00M42.20,284.50H40.00M42.20,282.50H40.00M42.20,280.50H40.00M42.20,278.50H40.00M42.20,277.50H40.00M42.20,276.50H40.00M42.20,275.50H38.20M42.20,268.50H40.00M42.20,264.50H40.00M42.20,261.50H40.00M42.20,259.50H40.00M42.20,258.50H40.00M42.20,256.50H40.00M42.20,255.50H40.00M42.20,254.50H40.00M42.20,253.50H38.20" stroke="#1a1a1a" stroke-width="1" fill="none"/>
<rect x="407.40" y="252.70" width="274.40" height="200.90" fill="none" stroke="#1a1a1a" stroke-width="1.3"/>
<path d="M427.50,453.60V457.60M466.50,453.60V457.60M505.50,453.60V457.60M544.50,453.60V457.60M583.50,453.60V457.60M622.50,453.60V457.60M661.50,453.60V457.60M427.50,453.60V455.80M446.50,453.60V455.80M466.50,453.60V455.80M485.50,453.60V455.80M505.50,453.60V455.80M524.50,453.60V455.80M544.50,453.60V455.80M563.50,453.60V455.80M583.50,453.60V455.80M602.50,453.60V455.80M622.50,453.60V455.80M641.50,453.60V455.80M661.50,453.60V455.80M407.40,453.50H403.40M407.40,446.50H405.20M407.40,442.50H405.20M407.40,439.50H405.20M407.40,436.50H405.20M407.40,434.50H405.20M407.40,433.50H405.20M407.40,431.50H405.20M407.40,430.50H405.20M407.40,429.50H403.40M407.40,422.50H405.20M407.40,417.50H405.20M407.40,414.50H405.20M407.40,412.50H405.20M407.40,410.50H405.20M407.40,408.50H405.20M407.40,407.50H405.20M407.40,406.50H405.20M407.40,405.50H403.40M407.40,397.50H405.20M407.40,393.50H405.20M407.40,390.50H405.20M407.40,388.50H405.20M407.40,386.50H405.20M407.40,384.50H405.20M407.40,383.50H405.20M407.40,382.50H405.20M407.40,380.50H403.40M407.40,373.50H405.20M407.40,369.50H405.20M407.40,366.50H405.20M407.40,363.50H405.20M407.40,362.50H405.20M407.40,360.50H405.20M407.40,359.50H405.20M407.40,357.50H405.20M407.40,356.50H403.40M407.40,349.50H405.20M407.40,345.50H405.20M407.40,342.50H405.20M407.40,339.50H405.20M407.40,337.50H405.20M407.40,336.50H405.20M407.40,334.50H405.20M407.40,333.50H405.20M407.40,332.50H403.40M407.40,325.50H405.20M407.40,320.50H405.20M407.40,317.50H405.20M407.40,315.50H405.20M407.40,313.50H405.20M407.40,312.50H405.20M407.40,310.50H405.20M407.40,309.50H405.20M407.40,308.50H403.40M407.40,300.50H405.20M407.40,296.50H405.20M407.40,293.50H405.20M407.40,291.50H405.20M407.40,289.50H405.20M407.40,287.50H405.20M407.40,286.50H405.20M407.40,285.50H405.20M407.40,284.50H403.40M407.40,276.50H405.20M407.40,272.50H405.20M407.40,269.50H405.20M407.40,267.50H405.20M407.40,265.50H405.20M407.40,263.50H405.20M407.40,262.50H405.20M407.40,260.50H405.20M407.40,259.50H403.40" stroke="#1a1a1a" stroke-width="1" fill="none"/>
<text x="33.90" y="5.10" font-size="4.6" font-weight="bold" text-anchor="end" fill="#1a1a1a">-2</text>
<text x="28.91" y="10.30" font-size="7.8" font-weight="bold" text-anchor="end" fill="#1a1a1a">10</text>
<text x="33.90" y="25.19" font-size="4.6" font-weight="bold" text-anchor="end" fill="#1a1a1a">-3</text>
<text x="28.91" y="30.39" font-size="7.8" font-weight="bold" text-anchor="end" fill="#1a1a1a">10</text>
<text x="33.90" y="45.28" font-size="4.6" font-weight="bold" text-anchor="end" fill="#1a1a1a">-4</text>
<text x="28.91" y="50.48" font-size="7.8" font-weight="bold" text-anchor="end" fill="#1a1a1a">10</text>
<text x="33.90" y="65.37" font-size="4.6" font-weight="bold" text-anchor="end" fill="#1a1a1a">-5</text>
<text x="28.91" y="70.57" font-size="7.8" font-weight="bold" text-anchor="end" fill="#1a1a1a">10</text>
<text x="33.90" y="85.46" font-size="4.6" font-weight="bold" text-anchor="end" fill="#1a1a1a">-6</text>
<text x="28.91" y="90.66" font-size="7.8" font-weight="bold" text-anchor="end" fill="#1a1a1a">10</text>
<text x="33.90" y="105.55" font-size="4.6" font-weight="bold" text-anchor="end" fill="#1a1a1a">-7</text>
<text x="28.91" y="110.75" font-size="7.8" font-weight="bold" text-anchor="end" fill="#1a1a1a">10</text>
<text x="33.90" y="125.64" font-size="4.6" font-weight="bold" text-anchor="end" fill="#1a1a1a">-8</text>
<text x="28.91" y="130.84" font-size="7.8" font-weight="bold" text-anchor="end" fill="#1a1a1a">10</text>
<text x="33.90" y="145.73" font-size="4.6" font-weight="bold" text-anchor="end" fill="#1a1a1a">-9</text>
<text x="28.91" y="150.93" font-size="7.8" font-weight="bold" text-anchor="end" fill="#1a1a1a">10</text>
<text x="33.90" y="165.82" font-size="4.6" font-weight="bold" text-anchor="end" fill="#1a1a1a">-10</text>
<text x="26.35" y="171.02" font-size="7.8" font-weight="bold" text-anchor="end" fill="#1a1a1a">10</text>
<text x="33.90" y="185.91" font-size="4.6" font-weight="bold" text-anchor="end" fill="#1a1a1a">-11</text>
<text x="26.35" y="191.11" font-size="7.8" font-weight="bold" text-anchor="end" fill="#1a1a1a">10</text>
<text x="33.90" y="206.00" font-size="4.6" font-weight="bold" text-anchor="end" fill="#1a1a1a">-12</text>
<text x="26.35" y="211.20" font-size="7.8" font-weight="bold" text-anchor="end" fill="#1a1a1a">10</text>
<text x="400.20" y="6.60" font-size="6.0" font-weight="bold" text-anchor="end" fill="#1a1a1a">-1</text>
<text x="394.27" y="10.80" font-size="8.8" font-weight="bold" text-anchor="end" fill="#1a1a1a">10</text>
<text x="400.20" y="23.33" font-size="6.0" font-weight="bold" text-anchor="end" fill="#1a1a1a">-2</text>
<text x="394.27" y="27.53" font-size="8.8" font-weight="bold" text-anchor="end" fill="#1a1a1a">10</text>
<text x="400.20" y="40.07" font-size="6.0" font-weight="bold" text-anchor="end" fill="#1a1a1a">-3</text>
<text x="394.27" y="44.27" font-size="8.8" font-weight="bold" text-anchor="end" fill="#1a1a1a">10</text>
<text x="400.20" y="56.80" font-size="6.0" font-weight="bold" text-anchor="end" fill="#1a1a1a">-4</text>
<text x="394.27" y="61.00" font-size="8.8" font-weight="bold" text-anchor="end" fill="#1a1a1a">10</text>
<text x="400.20" y="73.53" font-size="6.0" font-weight="bold" text-anchor="end" fill="#1a1a1a">-5</text>
<text x="394.27" y="77.73" font-size="8.8" font-weight="bold" text-anchor="end" fill="#1a1a1a">10</text>
<text x="400.20" y="90.27" font-size="6.0" font-weight="bold" text-anchor="end" fill="#1a1a1a">-6</text>
<text x="394.27" y="94.47" font-size="8.8" font-weight="bold" text-anchor="end" fill="#1a1a1a">10</text>
<text x="400.20" y="107.00" font-size="6.0" font-weight="bold" text-anchor="end" fill="#1a1a1a">-7</text>
<text x="394.27" y="111.20" font-size="8.8" font-weight="bold" text-anchor="end" fill="#1a1a1a">10</text>
<text x="400.20" y="123.73" font-size="6.0" font-weight="bold" text-anchor="end" fill="#1a1a1a">-8</text>
<text x="394.27" y="127.93" font-size="8.8" font-weight="bold" text-anchor="end" fill="#1a1a1a">10</text>
<text x="400.20" y="140.47" font-size="6.0" font-weight="bold" text-anchor="end" fill="#1a1a1a">-9</text>
<text x="394.27" y="144.67" font-size="8.8" font-weight="bold" text-anchor="end" fill="#1a1a1a">10</text>
<text x="400.20" y="157.20" font-size="6.0" font-weight="bold" text-anchor="end" fill="#1a1a1a">-10</text>
<text x="390.93" y="161.40" font-size="8.8" font-weight="bold" text-anchor="end" fill="#1a1a1a">10</text>
<text x="400.20" y="173.93" font-size="6.0" font-weight="bold" text-anchor="end" fill="#1a1a1a">-11</text>
<text x="390.93" y="178.13" font-size="8.8" font-weight="bold" text-anchor="end" fill="#1a1a1a">10</text>
<text x="400.20" y="190.67" font-size="6.0" font-weight="bold" text-anchor="end" fill="#1a1a1a">-12</text>
<text x="390.93" y="194.87" font-size="8.8" font-weight="bold" text-anchor="end" fill="#1a1a1a">10</text>
<text x="400.20" y="207.40" font-size="6.0" font-weight="bold" text-anchor="end" fill="#1a1a1a">-13</text>
<text x="390.93" y="211.60" font-size="8.8" font-weight="bold" text-anchor="end" fill="#1a1a1a">10</text>
<text x="36.00" y="252.10" font-size="6.0" font-weight="bold" text-anchor="end" fill="#1a1a1a">-5</text>
<text x="30.07" y="256.30" font-size="8.8" font-weight="bold" text-anchor="end" fill="#1a1a1a">10</text>
<text x="36.00" y="274.38" font-size="6.0" font-weight="bold" text-anchor="end" fill="#1a1a1a">-6</text>
<text x="30.07" y="278.58" font-size="8.8" font-weight="bold" text-anchor="end" fill="#1a1a1a">10</text>
<text x="36.00" y="296.66" font-size="6.0" font-weight="bold" text-anchor="end" fill="#1a1a1a">-7</text>
<text x="30.07" y="300.86" font-size="8.8" font-weight="bold" text-anchor="end" fill="#1a1a1a">10</text>
<text x="36.00" y="318.93" font-size="6.0" font-weight="bold" text-anchor="end" fill="#1a1a1a">-8</text>
<text x="30.07" y="323.13" font-size="8.8" font-weight="bold" text-anchor="end" fill="#1a1a1a">10</text>
<text x="36.00" y="341.21" font-size="6.0" font-weight="bold" text-anchor="end" fill="#1a1a1a">-9</text>
<text x="30.07" y="345.41" font-size="8.8" font-weight="bold" text-anchor="end" fill="#1a1a1a">10</text>
<text x="36.00" y="363.49" font-size="6.0" font-weight="bold" text-anchor="end" fill="#1a1a1a">-10</text>
<text x="26.73" y="367.69" font-size="8.8" font-weight="bold" text-anchor="end" fill="#1a1a1a">10</text>
<text x="36.00" y="385.77" font-size="6.0" font-weight="bold" text-anchor="end" fill="#1a1a1a">-11</text>
<text x="26.73" y="389.97" font-size="8.8" font-weight="bold" text-anchor="end" fill="#1a1a1a">10</text>
<text x="36.00" y="408.04" font-size="6.0" font-weight="bold" text-anchor="end" fill="#1a1a1a">-12</text>
<text x="26.73" y="412.24" font-size="8.8" font-weight="bold" text-anchor="end" fill="#1a1a1a">10</text>
<text x="36.00" y="430.32" font-size="6.0" font-weight="bold" text-anchor="end" fill="#1a1a1a">-13</text>
<text x="26.73" y="434.52" font-size="8.8" font-weight="bold" text-anchor="end" fill="#1a1a1a">10</text>
<text x="36.00" y="452.60" font-size="6.0" font-weight="bold" text-anchor="end" fill="#1a1a1a">-14</text>
<text x="26.73" y="456.80" font-size="8.8" font-weight="bold" text-anchor="end" fill="#1a1a1a">10</text>
<text x="400.80" y="258.80" font-size="6.0" font-weight="bold" text-anchor="end" fill="#1a1a1a">-2</text>
<text x="394.87" y="263.00" font-size="8.8" font-weight="bold" text-anchor="end" fill="#1a1a1a">10</text>
<text x="400.80" y="283.02" font-size="6.0" font-weight="bold" text-anchor="end" fill="#1a1a1a">-3</text>
<text x="394.87" y="287.22" font-size="8.8" font-weight="bold" text-anchor="end" fill="#1a1a1a">10</text>
<text x="400.80" y="307.25" font-size="6.0" font-weight="bold" text-anchor="end" fill="#1a1a1a">-4</text>
<text x="394.87" y="311.45" font-size="8.8" font-weight="bold" text-anchor="end" fill="#1a1a1a">10</text>
<text x="400.80" y="331.48" font-size="6.0" font-weight="bold" text-anchor="end" fill="#1a1a1a">-5</text>
<text x="394.87" y="335.68" font-size="8.8" font-weight="bold" text-anchor="end" fill="#1a1a1a">10</text>
<text x="400.80" y="355.70" font-size="6.0" font-weight="bold" text-anchor="end" fill="#1a1a1a">-6</text>
<text x="394.87" y="359.90" font-size="8.8" font-weight="bold" text-anchor="end" fill="#1a1a1a">10</text>
<text x="400.80" y="379.93" font-size="6.0" font-weight="bold" text-anchor="end" fill="#1a1a1a">-7</text>
<text x="394.87" y="384.12" font-size="8.8" font-weight="bold" text-anchor="end" fill="#1a1a1a">10</text>
<text x="400.80" y="404.15" font-size="6.0" font-weight="bold" text-anchor="end" fill="#1a1a1a">-8</text>
<text x="394.87" y="408.35" font-size="8.8" font-weight="bold" text-anchor="end" fill="#1a1a1a">10</text>
<text x="400.80" y="428.38" font-size="6.0" font-weight="bold" text-anchor="end" fill="#1a1a1a">-9</text>
<text x="394.87" y="432.57" font-size="8.8" font-weight="bold" text-anchor="end" fill="#1a1a1a">10</text>
<text x="400.80" y="452.60" font-size="6.0" font-weight="bold" text-anchor="end" fill="#1a1a1a">-10</text>
<text x="391.53" y="456.80" font-size="8.8" font-weight="bold" text-anchor="end" fill="#1a1a1a">10</text>
<text x="64.00" y="221.90" font-size="8.4" font-weight="bold" text-anchor="middle" fill="#1a1a1a">-2.0</text>
<text x="92.50" y="221.90" font-size="8.4" font-weight="bold" text-anchor="middle" fill="#1a1a1a">-1.5</text>
<text x="121.00" y="221.90" font-size="8.4" font-weight="bold" text-anchor="middle" fill="#1a1a1a">-1.0</text>
<text x="149.50" y="221.90" font-size="8.4" font-weight="bold" text-anchor="middle" fill="#1a1a1a">-0.5</text>
<text x="178.00" y="221.90" font-size="8.4" font-weight="bold" text-anchor="middle" fill="#1a1a1a">0.0</text>
<text x="206.50" y="221.90" font-size="8.4" font-weight="bold" text-anchor="middle" fill="#1a1a1a">0.5</text>
<text x="235.00" y="221.90" font-size="8.4" font-weight="bold" text-anchor="middle" fill="#1a1a1a">1.0</text>
<text x="263.50" y="221.90" font-size="8.4" font-weight="bold" text-anchor="middle" fill="#1a1a1a">1.5</text>
<text x="292.00" y="221.90" font-size="8.4" font-weight="bold" text-anchor="middle" fill="#1a1a1a">2.0</text>
<text x="407.61" y="222.40" font-size="8.8" font-weight="bold" text-anchor="middle" fill="#1a1a1a">-3</text>
<text x="453.24" y="222.40" font-size="8.8" font-weight="bold" text-anchor="middle" fill="#1a1a1a">-2</text>
<text x="498.87" y="222.40" font-size="8.8" font-weight="bold" text-anchor="middle" fill="#1a1a1a">-1</text>
<text x="544.50" y="222.40" font-size="8.8" font-weight="bold" text-anchor="middle" fill="#1a1a1a">0</text>
<text x="590.13" y="222.40" font-size="8.8" font-weight="bold" text-anchor="middle" fill="#1a1a1a">1</text>
<text x="635.76" y="222.40" font-size="8.8" font-weight="bold" text-anchor="middle" fill="#1a1a1a">2</text>
<text x="681.39" y="222.40" font-size="8.8" font-weight="bold" text-anchor="middle" fill="#1a1a1a">3</text>
<text x="62.30" y="467.40" font-size="8.8" font-weight="bold" text-anchor="middle" fill="#1a1a1a">-1.5</text>
<text x="101.30" y="467.40" font-size="8.8" font-weight="bold" text-anchor="middle" fill="#1a1a1a">-1.0</text>
<text x="140.30" y="467.40" font-size="8.8" font-weight="bold" text-anchor="middle" fill="#1a1a1a">-0.5</text>
<text x="179.30" y="467.40" font-size="8.8" font-weight="bold" text-anchor="middle" fill="#1a1a1a">0.0</text>
<text x="218.30" y="467.40" font-size="8.8" font-weight="bold" text-anchor="middle" fill="#1a1a1a">0.5</text>
<text x="257.30" y="467.40" font-size="8.8" font-weight="bold" text-anchor="middle" fill="#1a1a1a">1.0</text>
<text x="296.30" y="467.40" font-size="8.8" font-weight="bold" text-anchor="middle" fill="#1a1a1a">1.5</text>
<text x="427.29" y="467.60" font-size="8.8" font-weight="bold" text-anchor="middle" fill="#1a1a1a">-1.5</text>
<text x="466.33" y="467.60" font-size="8.8" font-weight="bold" text-anchor="middle" fill="#1a1a1a">-1.0</text>
<text x="505.37" y="467.60" font-size="8.8" font-weight="bold" text-anchor="middle" fill="#1a1a1a">-0.5</text>
<text x="544.40" y="467.60" font-size="8.8" font-weight="bold" text-anchor="middle" fill="#1a1a1a">0.0</text>
<text x="583.43" y="467.60" font-size="8.8" font-weight="bold" text-anchor="middle" fill="#1a1a1a">0.5</text>
<text x="622.47" y="467.60" font-size="8.8" font-weight="bold" text-anchor="middle" fill="#1a1a1a">1.0</text>
<text x="661.50" y="467.60" font-size="8.8" font-weight="bold" text-anchor="middle" fill="#1a1a1a">1.5</text>
<text x="178.30" y="234.30" font-size="11.6" text-anchor="middle" font-weight="bold" fill="#111" textLength="58.40" lengthAdjust="spacingAndGlyphs" >Voltage (V)</text>
<text x="18.60" y="112.80" font-size="11.6" text-anchor="middle" font-weight="bold" fill="#111" textLength="57.50" lengthAdjust="spacingAndGlyphs" transform="rotate(-90 18.60 112.80)" >Current (A)</text>
<text x="543.80" y="233.20" font-size="13.0" text-anchor="middle" font-weight="bold" fill="#111" textLength="68.50" lengthAdjust="spacingAndGlyphs" >Voltage (V)</text>
<text x="381.40" y="110.90" font-size="14.0" text-anchor="middle" font-weight="bold" fill="#111" textLength="76.30" lengthAdjust="spacingAndGlyphs" transform="rotate(-90 381.40 110.90)" >Current (A)</text>
<text x="179.50" y="481.80" font-size="13.4" text-anchor="middle" font-weight="bold" fill="#111" textLength="69.80" lengthAdjust="spacingAndGlyphs" >Voltage (V)</text>
<text x="13.40" y="354.80" font-size="14.0" text-anchor="middle" font-weight="bold" fill="#111" textLength="81.60" lengthAdjust="spacingAndGlyphs" transform="rotate(-90 13.40 354.80)" >Current (A)</text>
<text x="544.00" y="481.80" font-size="13.4" text-anchor="middle" font-weight="bold" fill="#111" textLength="70.00" lengthAdjust="spacingAndGlyphs" >Voltage (V)</text>
<text x="381.00" y="357.60" font-size="13.6" text-anchor="middle" font-weight="bold" fill="#111" textLength="72.00" lengthAdjust="spacingAndGlyphs" transform="rotate(-90 381.00 357.60)" >Current (A)</text>
<text x="0" y="0" font-size="26" font-weight="bold" fill="#000" transform="translate(3.4 26.9) scale(0.88 1)">a</text>
<text x="366.60" y="26.80" font-size="27.2" text-anchor="start" font-weight="bold" fill="#000" >b</text>
<text x="3.00" y="276.00" font-size="26" text-anchor="start" font-weight="bold" fill="#000" >c</text>
<text x="367.20" y="275.80" font-size="27.2" text-anchor="start" font-weight="bold" fill="#000" >d</text>
<text x="45.60" y="33.40" font-size="14.3" text-anchor="start" font-weight="bold" fill="#c5cc2c" textLength="69.60" lengthAdjust="spacingAndGlyphs" >Increasing</text>
<text x="45.60" y="52.50" font-size="14.3" text-anchor="start" font-weight="bold" fill="#c5cc2c" textLength="91.00" lengthAdjust="spacingAndGlyphs" >cycle number</text>
<text x="48.10" y="175.80" font-size="10.6" font-weight="bold" fill="#1a1a1a" textLength="55.00" lengthAdjust="spacingAndGlyphs">Pt/WO<tspan font-size="7" dy="2.5">X</tspan><tspan dy="-2.5">/</tspan>Pt</text>
<text x="48.10" y="188.50" font-size="10.6" font-weight="bold" fill="#1a1a1a" textLength="31.10" lengthAdjust="spacingAndGlyphs">T.E:&#160; Pt</text>
<text x="48.10" y="201.60" font-size="10.6" font-weight="bold" fill="#1a1a1a" textLength="32.90" lengthAdjust="spacingAndGlyphs">B.E:&#160; Pt</text>
<text x="415.20" y="175.80" font-size="10.6" font-weight="bold" fill="#1a1a1a" textLength="58.40" lengthAdjust="spacingAndGlyphs">Au/WO<tspan font-size="7" dy="2.5">X</tspan><tspan dy="-2.5">/</tspan>Pt</text>
<text x="415.20" y="188.80" font-size="10.6" font-weight="bold" fill="#1a1a1a" textLength="34.50" lengthAdjust="spacingAndGlyphs">T.E:&#160; Au</text>
<text x="415.20" y="201.60" font-size="10.6" font-weight="bold" fill="#1a1a1a" textLength="32.90" lengthAdjust="spacingAndGlyphs">B.E:&#160; Pt</text>
<text x="69.60" y="268.10" font-size="10.0" font-weight="bold" fill="#1a1a1a" textLength="57.80" lengthAdjust="spacingAndGlyphs">Pt/WO<tspan font-size="7" dy="2.5">X</tspan><tspan dy="-2.5">/</tspan>Au</text>
<text x="69.60" y="280.90" font-size="10.0" font-weight="bold" fill="#1a1a1a" textLength="31.60" lengthAdjust="spacingAndGlyphs">T.E:&#160; Pt</text>
<text x="69.60" y="293.90" font-size="10.0" font-weight="bold" fill="#1a1a1a" textLength="36.30" lengthAdjust="spacingAndGlyphs">B.E:&#160; Au</text>
<text x="69.60" y="307.50" font-size="10.0" font-weight="bold" fill="#1a1a1a" textLength="99.90" lengthAdjust="spacingAndGlyphs">Ar:O<tspan font-size="7" dy="2.5">2</tspan><tspan dy="-2.5">=30:5&#160; (SCCM)</tspan></text>
<text x="415.20" y="390.00" font-size="10.0" font-weight="bold" fill="#1a1a1a" textLength="58.30" lengthAdjust="spacingAndGlyphs">Pt/WO<tspan font-size="7" dy="2.5">X</tspan><tspan dy="-2.5">/</tspan>Au</text>
<text x="415.20" y="403.10" font-size="10.0" font-weight="bold" fill="#1a1a1a" textLength="30.70" lengthAdjust="spacingAndGlyphs">T.E: Pt</text>
<text x="415.20" y="416.00" font-size="10.0" font-weight="bold" fill="#1a1a1a" textLength="36.40" lengthAdjust="spacingAndGlyphs">B.E: Au</text>
<text x="415.20" y="429.30" font-size="10.0" font-weight="bold" fill="#1a1a1a" textLength="123.10" lengthAdjust="spacingAndGlyphs">Anneal: 400<tspan letter-spacing="-0.6">&#176;</tspan>C, O<tspan font-size="7" dy="2.5">2</tspan><tspan dy="-2.5"> 7Torr</tspan></text>
<text x="415.20" y="442.60" font-size="10.0" font-weight="bold" fill="#1a1a1a" textLength="57.20" lengthAdjust="spacingAndGlyphs">Time: 3min</text>
<path d="M247.40,97.40H266.50" stroke="#111111" stroke-width="1.5"/>
<text x="268.80" y="99.70" font-size="6.6" font-weight="bold" fill="#1a1a1a" textLength="28.00" lengthAdjust="spacingAndGlyphs">1st Cycle</text>
<path d="M247.40,107.94H266.50" stroke="#e8443c" stroke-width="1.5"/>
<text x="268.80" y="110.24" font-size="6.6" font-weight="bold" fill="#1a1a1a" textLength="32.30" lengthAdjust="spacingAndGlyphs">10th Cycle</text>
<path d="M247.40,118.48H266.50" stroke="#2a2ad6" stroke-width="1.5"/>
<text x="268.80" y="120.78" font-size="6.6" font-weight="bold" fill="#1a1a1a" textLength="32.30" lengthAdjust="spacingAndGlyphs">20th Cycle</text>
<path d="M247.40,129.02H266.50" stroke="#2f9a9a" stroke-width="1.5"/>
<text x="268.80" y="131.32" font-size="6.6" font-weight="bold" fill="#1a1a1a" textLength="32.30" lengthAdjust="spacingAndGlyphs">30th Cycle</text>
<path d="M247.40,139.56H266.50" stroke="#f040f0" stroke-width="1.5"/>
<text x="268.80" y="141.86" font-size="6.6" font-weight="bold" fill="#1a1a1a" textLength="32.30" lengthAdjust="spacingAndGlyphs">40th Cycle</text>
<path d="M247.40,150.10H266.50" stroke="#a2a254" stroke-width="1.5"/>
<text x="268.80" y="152.40" font-size="6.6" font-weight="bold" fill="#1a1a1a" textLength="32.30" lengthAdjust="spacingAndGlyphs">50th Cycle</text>
<path d="M247.40,160.64H266.50" stroke="#20206e" stroke-width="1.5"/>
<text x="268.80" y="162.94" font-size="6.6" font-weight="bold" fill="#1a1a1a" textLength="32.30" lengthAdjust="spacingAndGlyphs">60th Cycle</text>
<path d="M247.40,171.18H266.50" stroke="#8a2424" stroke-width="1.5"/>
<text x="268.80" y="173.48" font-size="6.6" font-weight="bold" fill="#1a1a1a" textLength="32.30" lengthAdjust="spacingAndGlyphs">70th Cycle</text>
<path d="M247.40,181.72H266.50" stroke="#e63284" stroke-width="1.5"/>
<text x="268.80" y="184.02" font-size="6.6" font-weight="bold" fill="#1a1a1a" textLength="32.30" lengthAdjust="spacingAndGlyphs">80th Cycle</text>
<path d="M247.40,192.26H266.50" stroke="#2e962e" stroke-width="1.5"/>
<text x="268.80" y="194.56" font-size="6.6" font-weight="bold" fill="#1a1a1a" textLength="32.30" lengthAdjust="spacingAndGlyphs">90th Cycle</text>
<path d="M247.40,202.80H266.50" stroke="#4a4aa8" stroke-width="1.5"/>
<text x="268.80" y="205.10" font-size="6.6" font-weight="bold" fill="#1a1a1a" textLength="36.20" lengthAdjust="spacingAndGlyphs">100th Cycle</text>
<path d="M613.90,97.90H632.60" stroke="#111111" stroke-width="1.5"/>
<text x="634.80" y="100.60" font-size="7.6" font-weight="bold" fill="#1a1a1a" textLength="35.50" lengthAdjust="spacingAndGlyphs">1st Cycle</text>
<path d="M613.90,108.36H632.60" stroke="#e8503e" stroke-width="1.5"/>
<text x="634.80" y="111.06" font-size="7.6" font-weight="bold" fill="#1a1a1a" textLength="40.60" lengthAdjust="spacingAndGlyphs">10th Cycle</text>
<path d="M613.90,118.82H632.60" stroke="#2a2ae0" stroke-width="1.5"/>
<text x="634.80" y="121.52" font-size="7.6" font-weight="bold" fill="#1a1a1a" textLength="40.60" lengthAdjust="spacingAndGlyphs">20th Cycle</text>
<path d="M613.90,129.28H632.60" stroke="#3a9c9c" stroke-width="1.5"/>
<text x="634.80" y="131.98" font-size="7.6" font-weight="bold" fill="#1a1a1a" textLength="40.60" lengthAdjust="spacingAndGlyphs">30th Cycle</text>
<path d="M613.90,139.74H632.60" stroke="#e040e0" stroke-width="1.5"/>
<text x="634.80" y="142.44" font-size="7.6" font-weight="bold" fill="#1a1a1a" textLength="40.60" lengthAdjust="spacingAndGlyphs">40th Cycle</text>
<path d="M613.90,150.20H632.60" stroke="#9c9c5c" stroke-width="1.5"/>
<text x="634.80" y="152.90" font-size="7.6" font-weight="bold" fill="#1a1a1a" textLength="40.60" lengthAdjust="spacingAndGlyphs">50th Cycle</text>
<path d="M613.90,160.66H632.60" stroke="#1a1a72" stroke-width="1.5"/>
<text x="634.80" y="163.36" font-size="7.6" font-weight="bold" fill="#1a1a1a" textLength="40.60" lengthAdjust="spacingAndGlyphs">60th Cycle</text>
<path d="M613.90,171.12H632.60" stroke="#8c3c3c" stroke-width="1.5"/>
<text x="634.80" y="173.82" font-size="7.6" font-weight="bold" fill="#1a1a1a" textLength="40.60" lengthAdjust="spacingAndGlyphs">70th Cycle</text>
<path d="M613.90,181.58H632.60" stroke="#e03c82" stroke-width="1.5"/>
<text x="634.80" y="184.28" font-size="7.6" font-weight="bold" fill="#1a1a1a" textLength="40.60" lengthAdjust="spacingAndGlyphs">80th Cycle</text>
<path d="M613.90,192.04H632.60" stroke="#3c9c3c" stroke-width="1.5"/>
<text x="634.80" y="194.74" font-size="7.6" font-weight="bold" fill="#1a1a1a" textLength="40.60" lengthAdjust="spacingAndGlyphs">90th Cycle</text>
<path d="M613.90,202.50H632.60" stroke="#22229c" stroke-width="1.5"/>
<text x="634.80" y="205.20" font-size="7.6" font-weight="bold" fill="#1a1a1a" textLength="45.40" lengthAdjust="spacingAndGlyphs">100th Cycle</text>
<path d="M236.10,373.90H258.30" stroke="#333333" stroke-width="1.8"/>
<text x="261.10" y="377.10" font-size="9.0" font-weight="bold" fill="#1a1a1a" textLength="39.80" lengthAdjust="spacingAndGlyphs">1st Cycle</text>
<path d="M236.10,386.00H258.30" stroke="#e03030" stroke-width="1.8"/>
<text x="261.10" y="389.20" font-size="9.0" font-weight="bold" fill="#1a1a1a" textLength="50.90" lengthAdjust="spacingAndGlyphs">100th Cycle</text>
<path d="M236.10,398.10H258.30" stroke="#2828d8" stroke-width="1.8"/>
<text x="261.10" y="401.30" font-size="9.0" font-weight="bold" fill="#1a1a1a" textLength="50.90" lengthAdjust="spacingAndGlyphs">200th Cycle</text>
<path d="M236.10,410.20H258.30" stroke="#2f9090" stroke-width="1.8"/>
<text x="261.10" y="413.40" font-size="9.0" font-weight="bold" fill="#1a1a1a" textLength="50.90" lengthAdjust="spacingAndGlyphs">300th Cycle</text>
<path d="M236.10,422.30H258.30" stroke="#f040f0" stroke-width="1.8"/>
<text x="261.10" y="425.50" font-size="9.0" font-weight="bold" fill="#1a1a1a" textLength="50.90" lengthAdjust="spacingAndGlyphs">400th Cycle</text>
<path d="M236.10,434.40H258.30" stroke="#90904e" stroke-width="1.8"/>
<text x="261.10" y="437.60" font-size="9.0" font-weight="bold" fill="#1a1a1a" textLength="50.90" lengthAdjust="spacingAndGlyphs">500th Cycle</text>
<path d="M236.10,446.50H258.30" stroke="#3a3a9a" stroke-width="1.8"/>
<text x="261.10" y="449.70" font-size="9.0" font-weight="bold" fill="#1a1a1a" textLength="50.90" lengthAdjust="spacingAndGlyphs">600th Cycle</text>
<path d="M607.00,398.00H629.10" stroke="#3c3c3c" stroke-width="1.8"/>
<text x="632.00" y="401.20" font-size="9.2" font-weight="bold" fill="#1a1a1a" textLength="40.20" lengthAdjust="spacingAndGlyphs">1st Cycle</text>
<path d="M607.00,410.15H629.10" stroke="#e03c3c" stroke-width="1.8"/>
<text x="632.00" y="413.35" font-size="9.2" font-weight="bold" fill="#1a1a1a" textLength="41.00" lengthAdjust="spacingAndGlyphs">5th Cycle</text>
<path d="M607.00,422.30H629.10" stroke="#2222c4" stroke-width="1.8"/>
<text x="632.00" y="425.50" font-size="9.2" font-weight="bold" fill="#1a1a1a" textLength="45.80" lengthAdjust="spacingAndGlyphs">10th Cycle</text>
<path d="M607.00,434.45H629.10" stroke="#2a9090" stroke-width="1.8"/>
<text x="632.00" y="437.65" font-size="9.2" font-weight="bold" fill="#1a1a1a" textLength="45.80" lengthAdjust="spacingAndGlyphs">15th Cycle</text>
<path d="M607.00,446.60H629.10" stroke="#e020e0" stroke-width="1.8"/>
<text x="632.00" y="449.80" font-size="9.2" font-weight="bold" fill="#1a1a1a" textLength="45.80" lengthAdjust="spacingAndGlyphs">20th Cycle</text>
<g stroke="#a8a4b8" stroke-width="4.6" fill="none" opacity="0.45" filter="url(#glow)" stroke-linecap="round" stroke-linejoin="round"><path d="M45.10,61.20V100.90"/><path d="M39.10,91.40L45.10,101.20L51.10,91.40"/></g>
<g stroke="#f7f31e" stroke-width="3.0" fill="none" stroke-linecap="butt" stroke-linejoin="miter"><path d="M45.10,61.20V100.90"/><path d="M39.10,91.40L45.10,101.20L51.10,91.40"/></g>
<g stroke="#a8a4b8" stroke-width="4.6" fill="none" opacity="0.45" filter="url(#glow)" stroke-linecap="round" stroke-linejoin="round"><path d="M205.20,80.50V136.30"/><path d="M198.60,126.30L205.20,136.60L211.80,126.30"/></g>
<g stroke="#f7f31e" stroke-width="3.0" fill="none" stroke-linecap="butt" stroke-linejoin="miter"><path d="M205.20,80.50V136.30"/><path d="M198.60,126.30L205.20,136.60L211.80,126.30"/></g>
<g stroke="#a8a4b8" stroke-width="4.6" fill="none" opacity="0.45" filter="url(#glow)" stroke-linecap="round" stroke-linejoin="round"><path d="M454.20,93.20V62.80"/><path d="M448.40,71.90L454.20,62.50L460.00,71.90"/></g>
<g stroke="#f7f31e" stroke-width="3.0" fill="none" stroke-linecap="butt" stroke-linejoin="miter"><path d="M454.20,93.20V62.80"/><path d="M448.40,71.90L454.20,62.50L460.00,71.90"/></g>
<g stroke="#a8a4b8" stroke-width="4.6" fill="none" opacity="0.45" filter="url(#glow)" stroke-linecap="round" stroke-linejoin="round"><path d="M587.40,110.30V87.30"/><path d="M581.50,96.80L587.40,87.00L593.30,96.80"/></g>
<g stroke="#f7f31e" stroke-width="3.0" fill="none" stroke-linecap="butt" stroke-linejoin="miter"><path d="M587.40,110.30V87.30"/><path d="M581.50,96.80L587.40,87.00L593.30,96.80"/></g>
<g stroke="#a8a4b8" stroke-width="4.6" fill="none" opacity="0.45" filter="url(#glow)" stroke-linecap="round" stroke-linejoin="round"><path d="M244.30,345.70V368.90"/><path d="M238.10,359.40L244.30,369.20L250.50,359.40"/></g>
<g stroke="#f7f31e" stroke-width="3.0" fill="none" stroke-linecap="butt" stroke-linejoin="miter"><path d="M244.30,345.70V368.90"/><path d="M238.10,359.40L244.30,369.20L250.50,359.40"/></g>
<g stroke="#a8a4b8" stroke-width="4.6" fill="none" opacity="0.45" filter="url(#glow)" stroke-linecap="round" stroke-linejoin="round"><path d="M460.90,314.20V282.80"/><path d="M454.80,292.10L460.90,282.50L467.00,292.10"/></g>
<g stroke="#f7f31e" stroke-width="3.0" fill="none" stroke-linecap="butt" stroke-linejoin="miter"><path d="M460.90,314.20V282.80"/><path d="M454.80,292.10L460.90,282.50L467.00,292.10"/></g>
<g stroke="#a8a4b8" stroke-width="4.6" fill="none" opacity="0.45" filter="url(#glow)" stroke-linecap="round" stroke-linejoin="round"><path d="M624.50,311.10V280.20"/><path d="M618.60,289.90L624.50,279.90L630.40,289.90"/></g>
<g stroke="#f7f31e" stroke-width="3.0" fill="none" stroke-linecap="butt" stroke-linejoin="miter"><path d="M624.50,311.10V280.20"/><path d="M618.60,289.90L624.50,279.90L630.40,289.90"/></g>
</svg></body></html>
